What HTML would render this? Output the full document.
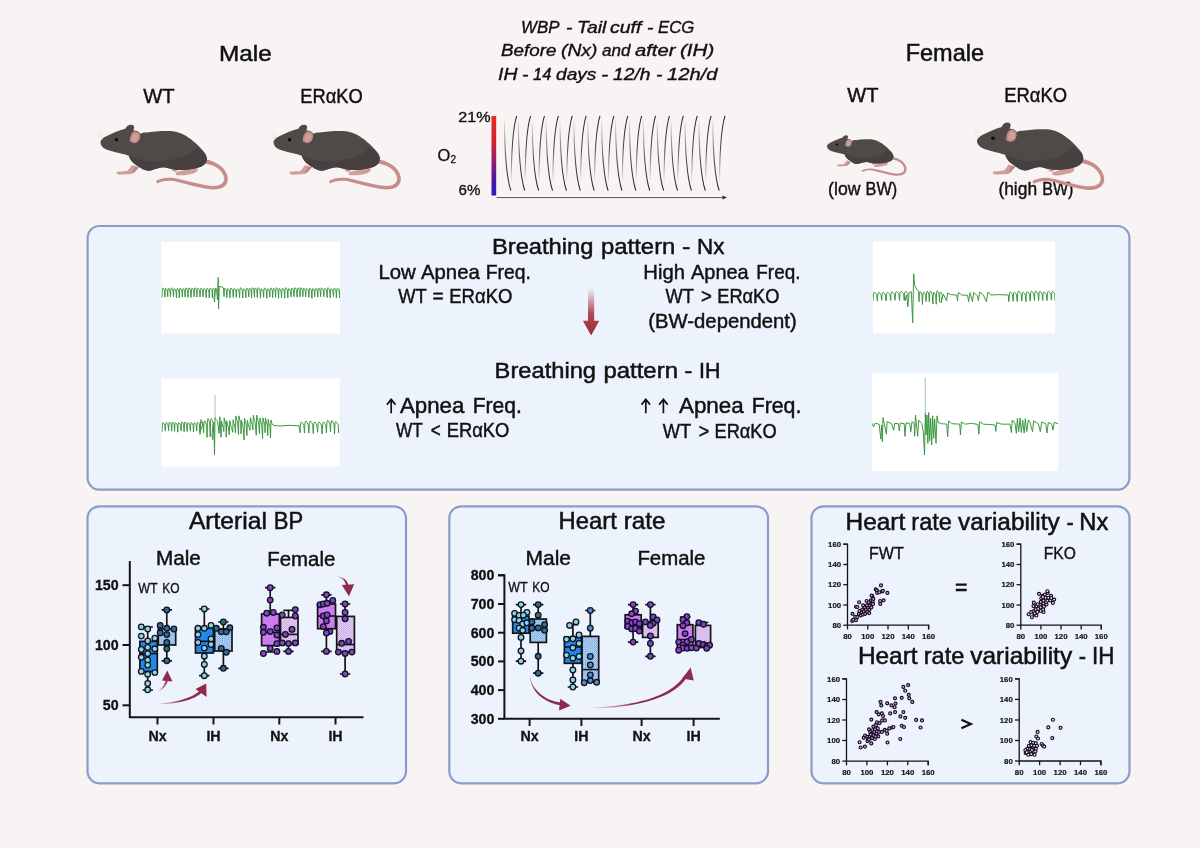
<!DOCTYPE html><html><head><meta charset="utf-8"><title>Graphical abstract</title>
<style>html,body{margin:0;padding:0;background:#f8f4f3;}svg{display:block;will-change:transform;font-family:"Liberation Sans",sans-serif;}</style></head><body>
<svg width="1200" height="848" viewBox="0 0 1200 848">
<defs>
<linearGradient id="o2bar" x1="0" y1="0" x2="0" y2="1"><stop offset="0" stop-color="#ea2a1c"/><stop offset="0.3" stop-color="#d4242e"/><stop offset="0.6" stop-color="#8c1c76"/><stop offset="0.82" stop-color="#4618aa"/><stop offset="1" stop-color="#2a18c4"/></linearGradient>
<linearGradient id="gdown" gradientUnits="userSpaceOnUse" x1="0" y1="118" x2="0" y2="191"><stop offset="0" stop-color="#333" stop-opacity="0"/><stop offset="0.55" stop-color="#333" stop-opacity="0.85"/><stop offset="1" stop-color="#222" stop-opacity="1"/></linearGradient>
<linearGradient id="gup" gradientUnits="userSpaceOnUse" x1="0" y1="183" x2="0" y2="115"><stop offset="0" stop-color="#333" stop-opacity="0"/><stop offset="0.5" stop-color="#333" stop-opacity="0.85"/><stop offset="1" stop-color="#222" stop-opacity="1"/></linearGradient>
<linearGradient id="garrow" x1="0" y1="0" x2="0" y2="1"><stop offset="0" stop-color="#a8323f" stop-opacity="0"/><stop offset="0.55" stop-color="#a8323f" stop-opacity="0.9"/><stop offset="1" stop-color="#9c2c3c" stop-opacity="1"/></linearGradient>
<pattern id="pblue" width="2.2" height="2.2" patternUnits="userSpaceOnUse"><rect width="2.2" height="2.2" fill="#d6e5f8"/><rect width="1" height="1" fill="#4a90e2"/><rect x="1.1" y="1.1" width="1" height="1" fill="#4a90e2"/></pattern>
<pattern id="ppurp" width="2.2" height="2.2" patternUnits="userSpaceOnUse"><rect width="2.2" height="2.2" fill="#f1e6fa"/><rect width="0.95" height="0.95" fill="#b07ae0"/><rect x="1.1" y="1.1" width="0.95" height="0.95" fill="#b07ae0"/></pattern>
<symbol id="mouse" viewBox="0 0 1200 720">
<path d="M925,396 C1010,408 1092,465 1102,540 C1110,617 1040,642 960,634 C850,620 760,588 680,570 C620,560 572,570 538,588 L527,568 C565,546 620,536 682,546 C762,560 852,592 960,606 C1030,612 1078,595 1073,540 C1062,482 1000,436 915,427 Z" fill="#c58e8a"/>
<path d="M335,440 C325,460 310,480 295,488 L218,493 C204,500 214,513 236,517 L335,512 C358,500 380,470 392,455 Z" fill="#cf9f9a"/>
<path d="M360,455 C352,470 345,485 335,497 L350,500 C365,488 380,470 392,455 Z" fill="#bf8582"/>
<path d="M690,500 C720,485 800,470 855,462 C872,475 862,495 832,505 C800,516 740,526 700,522 C684,518 682,508 690,500 Z" fill="#cf9f9a"/>
<path d="M650,480 C660,490 680,497 690,497 L700,480 Z" fill="#cf9f9a"/>
<path d="M85,265 C80,245 100,225 130,210 C180,185 240,160 283,150 C290,130 305,118 330,117 C350,118 358,130 351,150 L346,165 C370,163 392,172 402,190 C420,182 440,178 455,180 C500,172 600,165 665,170 C740,180 800,225 850,270 C900,320 935,350 935,390 C935,430 900,455 860,462 C820,475 750,482 700,480 C650,475 620,462 590,458 C560,458 530,470 500,480 C470,490 440,485 410,465 C370,440 330,420 310,365 C270,350 200,340 150,322 C110,310 90,290 85,265 Z" fill="#4f4948"/>
<path d="M310,365 C400,405 520,425 610,405 C700,385 790,380 850,300 C900,330 935,355 935,390 C935,430 900,455 860,462 C820,475 750,482 700,480 C650,475 620,462 590,458 C560,458 530,470 500,480 C470,490 440,485 410,465 C370,440 330,420 310,365 Z" fill="#464140"/>
<path d="M318,250 C318,210 330,180 352,172 C378,165 400,180 402,206 C402,236 385,260 360,265 C340,263 325,258 318,250 Z" fill="#bb8683"/>
<path d="M332,245 C332,215 342,192 358,186 C378,182 390,192 390,210 C390,234 376,252 358,254 C345,253 337,250 332,245 Z" fill="#d19d99"/>
<circle cx="212" cy="237" r="14" fill="#0c0a0a"/>
<path d="M100,228 L68,162 M106,222 L92,168 M100,240 L60,200" stroke="#d9d4d2" stroke-width="3" fill="none"/>
</symbol>
</defs>
<rect width="1200" height="848" fill="#f8f4f3"/>
<text x="219.0" y="61.3" font-size="22.7" font-weight="normal" font-style="normal" text-anchor="start" fill="#111" textLength="52.7" lengthAdjust="spacingAndGlyphs" stroke="#111" stroke-width="0.5">Male</text>
<text x="143.2" y="103.3" font-size="20.2" font-weight="normal" font-style="normal" text-anchor="start" fill="#111" textLength="31.4" lengthAdjust="spacingAndGlyphs" stroke="#111" stroke-width="0.44">WT</text>
<text x="300.3" y="103.3" font-size="20.2" font-weight="normal" font-style="normal" text-anchor="start" fill="#111" textLength="62.4" lengthAdjust="spacingAndGlyphs" stroke="#111" stroke-width="0.44">ERαKO</text>
<text x="905.7" y="61.4" font-size="23.4" font-weight="normal" font-style="normal" text-anchor="start" fill="#111" textLength="78.4" lengthAdjust="spacingAndGlyphs" stroke="#111" stroke-width="0.51">Female</text>
<text x="847.2" y="101.5" font-size="20.4" font-weight="normal" font-style="normal" text-anchor="start" fill="#111" textLength="31.2" lengthAdjust="spacingAndGlyphs" stroke="#111" stroke-width="0.45">WT</text>
<text x="1004.3" y="101.5" font-size="20.4" font-weight="normal" font-style="normal" text-anchor="start" fill="#111" textLength="62.7" lengthAdjust="spacingAndGlyphs" stroke="#111" stroke-width="0.45">ERαKO</text>
<text x="828.1" y="195.2" font-size="17.8" font-weight="normal" font-style="normal" text-anchor="start" fill="#111" textLength="32.4" lengthAdjust="spacingAndGlyphs" stroke="#111" stroke-width="0.39">(low</text>
<text x="865.6" y="195.2" font-size="17.8" font-weight="normal" font-style="normal" text-anchor="start" fill="#111" textLength="31.7" lengthAdjust="spacingAndGlyphs" stroke="#111" stroke-width="0.39">BW)</text>
<text x="998.4" y="195.2" font-size="17.8" font-weight="normal" font-style="normal" text-anchor="start" fill="#111" textLength="38.7" lengthAdjust="spacingAndGlyphs" stroke="#111" stroke-width="0.39">(high</text>
<text x="1042.2" y="195.2" font-size="17.8" font-weight="normal" font-style="normal" text-anchor="start" fill="#111" textLength="31.3" lengthAdjust="spacingAndGlyphs" stroke="#111" stroke-width="0.39">BW)</text>
<text x="521.0" y="33.0" font-size="17.4" font-weight="normal" font-style="italic" text-anchor="start" fill="#111" textLength="38.4" lengthAdjust="spacingAndGlyphs" stroke="#111" stroke-width="0.38">WBP</text>
<text x="566.0" y="33.0" font-size="17.4" font-weight="normal" font-style="italic" text-anchor="start" fill="#111" textLength="6.4" lengthAdjust="spacingAndGlyphs" stroke="#111" stroke-width="0.38">-</text>
<text x="577.0" y="33.0" font-size="17.4" font-weight="normal" font-style="italic" text-anchor="start" fill="#111" textLength="29.4" lengthAdjust="spacingAndGlyphs" stroke="#111" stroke-width="0.38">Tail</text>
<text x="610.0" y="33.0" font-size="17.4" font-weight="normal" font-style="italic" text-anchor="start" fill="#111" textLength="31.4" lengthAdjust="spacingAndGlyphs" stroke="#111" stroke-width="0.38">cuff</text>
<text x="647.0" y="33.0" font-size="17.4" font-weight="normal" font-style="italic" text-anchor="start" fill="#111" textLength="6.4" lengthAdjust="spacingAndGlyphs" stroke="#111" stroke-width="0.38">-</text>
<text x="658.0" y="33.0" font-size="17.4" font-weight="normal" font-style="italic" text-anchor="start" fill="#111" textLength="36.4" lengthAdjust="spacingAndGlyphs" stroke="#111" stroke-width="0.38">ECG</text>
<text x="501.0" y="56.4" font-size="17.4" font-weight="normal" font-style="italic" text-anchor="start" fill="#111" textLength="55.4" lengthAdjust="spacingAndGlyphs" stroke="#111" stroke-width="0.38">Before</text>
<text x="561.0" y="56.4" font-size="17.4" font-weight="normal" font-style="italic" text-anchor="start" fill="#111" textLength="36.4" lengthAdjust="spacingAndGlyphs" stroke="#111" stroke-width="0.38">(Nx)</text>
<text x="602.0" y="56.4" font-size="17.4" font-weight="normal" font-style="italic" text-anchor="start" fill="#111" textLength="28.4" lengthAdjust="spacingAndGlyphs" stroke="#111" stroke-width="0.38">and</text>
<text x="635.0" y="56.4" font-size="17.4" font-weight="normal" font-style="italic" text-anchor="start" fill="#111" textLength="40.4" lengthAdjust="spacingAndGlyphs" stroke="#111" stroke-width="0.38">after</text>
<text x="680.0" y="56.4" font-size="17.4" font-weight="normal" font-style="italic" text-anchor="start" fill="#111" textLength="34.4" lengthAdjust="spacingAndGlyphs" stroke="#111" stroke-width="0.38">(IH)</text>
<text x="498.0" y="79.6" font-size="17.4" font-weight="normal" font-style="italic" text-anchor="start" fill="#111" textLength="19.4" lengthAdjust="spacingAndGlyphs" stroke="#111" stroke-width="0.38">IH</text>
<text x="522.0" y="79.6" font-size="17.4" font-weight="normal" font-style="italic" text-anchor="start" fill="#111" textLength="6.4" lengthAdjust="spacingAndGlyphs" stroke="#111" stroke-width="0.38">-</text>
<text x="533.0" y="79.6" font-size="17.4" font-weight="normal" font-style="italic" text-anchor="start" fill="#111" textLength="18.4" lengthAdjust="spacingAndGlyphs" stroke="#111" stroke-width="0.38">14</text>
<text x="556.0" y="79.6" font-size="17.4" font-weight="normal" font-style="italic" text-anchor="start" fill="#111" textLength="40.4" lengthAdjust="spacingAndGlyphs" stroke="#111" stroke-width="0.38">days</text>
<text x="601.0" y="79.6" font-size="17.4" font-weight="normal" font-style="italic" text-anchor="start" fill="#111" textLength="7.4" lengthAdjust="spacingAndGlyphs" stroke="#111" stroke-width="0.38">-</text>
<text x="613.0" y="79.6" font-size="17.4" font-weight="normal" font-style="italic" text-anchor="start" fill="#111" textLength="37.4" lengthAdjust="spacingAndGlyphs" stroke="#111" stroke-width="0.38">12/h</text>
<text x="656.0" y="79.6" font-size="17.4" font-weight="normal" font-style="italic" text-anchor="start" fill="#111" textLength="6.4" lengthAdjust="spacingAndGlyphs" stroke="#111" stroke-width="0.38">-</text>
<text x="667.0" y="79.6" font-size="17.4" font-weight="normal" font-style="italic" text-anchor="start" fill="#111" textLength="50.4" lengthAdjust="spacingAndGlyphs" stroke="#111" stroke-width="0.38">12h/d</text>
<text x="458.3" y="121.5" font-size="15.1" font-weight="normal" font-style="normal" text-anchor="start" fill="#111" textLength="32.4" lengthAdjust="spacingAndGlyphs" stroke="#111" stroke-width="0.33">21%</text>
<text x="458.6" y="194.5" font-size="15.1" font-weight="normal" font-style="normal" text-anchor="start" fill="#111" textLength="21.9" lengthAdjust="spacingAndGlyphs" stroke="#111" stroke-width="0.33">6%</text>
<text x="437.6" y="160.5" font-size="16.5" fill="#111" stroke="#111" stroke-width="0.3">O<tspan font-size="10" dy="2.6">2</tspan></text>
<rect x="491.5" y="116" width="4.7" height="79.5" fill="url(#o2bar)"/>
<path d="M496.6,197.6 H724" stroke="#555" stroke-width="1" fill="none"/>
<path d="M722.5,195.6 L727,197.6 L722.5,199.6 Z" fill="#333"/>
<path d="M504.40,118.5 C504.60,150 506.00,176 510.90,190.7" stroke="url(#gdown)" stroke-width="1.05" fill="none"/>
<path d="M511.20,183 C511.40,150 512.80,128 516.70,115.8" stroke="url(#gup)" stroke-width="1.05" fill="none"/>
<path d="M518.29,118.5 C518.49,150 519.89,176 524.79,190.7" stroke="url(#gdown)" stroke-width="1.05" fill="none"/>
<path d="M525.09,183 C525.29,150 526.69,128 530.59,115.8" stroke="url(#gup)" stroke-width="1.05" fill="none"/>
<path d="M532.17,118.5 C532.37,150 533.77,176 538.67,190.7" stroke="url(#gdown)" stroke-width="1.05" fill="none"/>
<path d="M538.97,183 C539.17,150 540.57,128 544.47,115.8" stroke="url(#gup)" stroke-width="1.05" fill="none"/>
<path d="M546.06,118.5 C546.26,150 547.66,176 552.56,190.7" stroke="url(#gdown)" stroke-width="1.05" fill="none"/>
<path d="M552.86,183 C553.06,150 554.46,128 558.36,115.8" stroke="url(#gup)" stroke-width="1.05" fill="none"/>
<path d="M559.95,118.5 C560.15,150 561.55,176 566.45,190.7" stroke="url(#gdown)" stroke-width="1.05" fill="none"/>
<path d="M566.75,183 C566.95,150 568.35,128 572.25,115.8" stroke="url(#gup)" stroke-width="1.05" fill="none"/>
<path d="M573.84,118.5 C574.03,150 575.43,176 580.34,190.7" stroke="url(#gdown)" stroke-width="1.05" fill="none"/>
<path d="M580.63,183 C580.84,150 582.24,128 586.13,115.8" stroke="url(#gup)" stroke-width="1.05" fill="none"/>
<path d="M587.72,118.5 C587.92,150 589.32,176 594.22,190.7" stroke="url(#gdown)" stroke-width="1.05" fill="none"/>
<path d="M594.52,183 C594.72,150 596.12,128 600.02,115.8" stroke="url(#gup)" stroke-width="1.05" fill="none"/>
<path d="M601.61,118.5 C601.81,150 603.21,176 608.11,190.7" stroke="url(#gdown)" stroke-width="1.05" fill="none"/>
<path d="M608.41,183 C608.61,150 610.01,128 613.91,115.8" stroke="url(#gup)" stroke-width="1.05" fill="none"/>
<path d="M615.50,118.5 C615.70,150 617.10,176 622.00,190.7" stroke="url(#gdown)" stroke-width="1.05" fill="none"/>
<path d="M622.30,183 C622.50,150 623.90,128 627.80,115.8" stroke="url(#gup)" stroke-width="1.05" fill="none"/>
<path d="M629.38,118.5 C629.58,150 630.98,176 635.88,190.7" stroke="url(#gdown)" stroke-width="1.05" fill="none"/>
<path d="M636.18,183 C636.38,150 637.78,128 641.68,115.8" stroke="url(#gup)" stroke-width="1.05" fill="none"/>
<path d="M643.27,118.5 C643.47,150 644.87,176 649.77,190.7" stroke="url(#gdown)" stroke-width="1.05" fill="none"/>
<path d="M650.07,183 C650.27,150 651.67,128 655.57,115.8" stroke="url(#gup)" stroke-width="1.05" fill="none"/>
<path d="M657.16,118.5 C657.36,150 658.76,176 663.66,190.7" stroke="url(#gdown)" stroke-width="1.05" fill="none"/>
<path d="M663.96,183 C664.16,150 665.56,128 669.46,115.8" stroke="url(#gup)" stroke-width="1.05" fill="none"/>
<path d="M671.04,118.5 C671.24,150 672.64,176 677.54,190.7" stroke="url(#gdown)" stroke-width="1.05" fill="none"/>
<path d="M677.84,183 C678.04,150 679.44,128 683.34,115.8" stroke="url(#gup)" stroke-width="1.05" fill="none"/>
<path d="M684.93,118.5 C685.13,150 686.53,176 691.43,190.7" stroke="url(#gdown)" stroke-width="1.05" fill="none"/>
<path d="M691.73,183 C691.93,150 693.33,128 697.23,115.8" stroke="url(#gup)" stroke-width="1.05" fill="none"/>
<path d="M698.82,118.5 C699.02,150 700.42,176 705.32,190.7" stroke="url(#gdown)" stroke-width="1.05" fill="none"/>
<path d="M705.62,183 C705.82,150 707.22,128 711.12,115.8" stroke="url(#gup)" stroke-width="1.05" fill="none"/>
<path d="M712.71,118.5 C712.91,150 714.31,176 719.21,190.7" stroke="url(#gdown)" stroke-width="1.05" fill="none"/>
<path d="M719.51,183 C719.71,150 721.11,128 725.01,115.8" stroke="url(#gup)" stroke-width="1.05" fill="none"/>
<g transform="translate(90.00,110.00) scale(0.12500,0.12500)"><use href="#mouse" x="0" y="0" width="1200" height="720"/></g>
<g transform="translate(263.00,110.00) scale(0.12500,0.12500)"><use href="#mouse" x="0" y="0" width="1200" height="720"/></g>
<g transform="translate(820.40,126.10) scale(0.07812,0.07812)"><use href="#mouse" x="0" y="0" width="1200" height="720"/></g>
<g transform="translate(966.40,107.40) scale(0.12500,0.13000)"><use href="#mouse" x="0" y="0" width="1200" height="720"/></g>
<rect x="87.6" y="226" width="1041.8000000000002" height="263.7" rx="12" ry="12" fill="#edf3fc" stroke="#8a9dca" stroke-width="2.2"/>
<rect x="87.5" y="506.3" width="318.5" height="276.99999999999994" rx="12" ry="12" fill="#edf3fc" stroke="#8a9dca" stroke-width="2.2"/>
<rect x="449.3" y="506.3" width="318.7" height="276.99999999999994" rx="12" ry="12" fill="#edf3fc" stroke="#8a9dca" stroke-width="2.2"/>
<rect x="811.5" y="506.3" width="318.0" height="276.99999999999994" rx="12" ry="12" fill="#edf3fc" stroke="#8a9dca" stroke-width="2.2"/>
<text x="492.0" y="254.2" font-size="22.1" font-weight="normal" font-style="normal" text-anchor="start" fill="#111" textLength="101.4" lengthAdjust="spacingAndGlyphs" stroke="#111" stroke-width="0.49">Breathing</text>
<text x="601.0" y="254.2" font-size="22.1" font-weight="normal" font-style="normal" text-anchor="start" fill="#111" textLength="74.4" lengthAdjust="spacingAndGlyphs" stroke="#111" stroke-width="0.49">pattern</text>
<text x="682.0" y="254.2" font-size="22.1" font-weight="normal" font-style="normal" text-anchor="start" fill="#111" textLength="8.4" lengthAdjust="spacingAndGlyphs" stroke="#111" stroke-width="0.49">-</text>
<text x="697.0" y="254.2" font-size="22.1" font-weight="normal" font-style="normal" text-anchor="start" fill="#111" textLength="27.4" lengthAdjust="spacingAndGlyphs" stroke="#111" stroke-width="0.49">Nx</text>
<text x="494.6" y="377.9" font-size="22.1" font-weight="normal" font-style="normal" text-anchor="start" fill="#111" textLength="101.4" lengthAdjust="spacingAndGlyphs" stroke="#111" stroke-width="0.49">Breathing</text>
<text x="603.4" y="377.9" font-size="22.1" font-weight="normal" font-style="normal" text-anchor="start" fill="#111" textLength="74.6" lengthAdjust="spacingAndGlyphs" stroke="#111" stroke-width="0.49">pattern</text>
<text x="684.6" y="377.9" font-size="22.1" font-weight="normal" font-style="normal" text-anchor="start" fill="#111" textLength="7.8" lengthAdjust="spacingAndGlyphs" stroke="#111" stroke-width="0.49">-</text>
<text x="699.0" y="377.9" font-size="22.1" font-weight="normal" font-style="normal" text-anchor="start" fill="#111" textLength="21.4" lengthAdjust="spacingAndGlyphs" stroke="#111" stroke-width="0.49">IH</text>
<text x="378.4" y="279.0" font-size="19.8" font-weight="normal" font-style="normal" text-anchor="start" fill="#111" textLength="37.4" lengthAdjust="spacingAndGlyphs" stroke="#111" stroke-width="0.44">Low</text>
<text x="421.0" y="279.0" font-size="19.8" font-weight="normal" font-style="normal" text-anchor="start" fill="#111" textLength="58.8" lengthAdjust="spacingAndGlyphs" stroke="#111" stroke-width="0.44">Apnea</text>
<text x="485.7" y="279.0" font-size="19.8" font-weight="normal" font-style="normal" text-anchor="start" fill="#111" textLength="45.1" lengthAdjust="spacingAndGlyphs" stroke="#111" stroke-width="0.44">Freq.</text>
<text x="398.2" y="303.2" font-size="20.3" font-weight="normal" font-style="normal" text-anchor="start" fill="#111" textLength="28.5" lengthAdjust="spacingAndGlyphs" stroke="#111" stroke-width="0.45">WT</text>
<text x="432.5" y="303.2" font-size="20.3" font-weight="normal" font-style="normal" text-anchor="start" fill="#111" textLength="11.2" lengthAdjust="spacingAndGlyphs" stroke="#111" stroke-width="0.45">=</text>
<text x="449.2" y="303.2" font-size="20.3" font-weight="normal" font-style="normal" text-anchor="start" fill="#111" textLength="63.2" lengthAdjust="spacingAndGlyphs" stroke="#111" stroke-width="0.45">ERαKO</text>
<text x="643.3" y="278.8" font-size="19.8" font-weight="normal" font-style="normal" text-anchor="start" fill="#111" textLength="41.6" lengthAdjust="spacingAndGlyphs" stroke="#111" stroke-width="0.44">High</text>
<text x="691.0" y="278.8" font-size="19.8" font-weight="normal" font-style="normal" text-anchor="start" fill="#111" textLength="57.7" lengthAdjust="spacingAndGlyphs" stroke="#111" stroke-width="0.44">Apnea</text>
<text x="756.3" y="278.8" font-size="19.8" font-weight="normal" font-style="normal" text-anchor="start" fill="#111" textLength="44.1" lengthAdjust="spacingAndGlyphs" stroke="#111" stroke-width="0.44">Freq.</text>
<text x="665.5" y="302.9" font-size="20.3" font-weight="normal" font-style="normal" text-anchor="start" fill="#111" textLength="28.4" lengthAdjust="spacingAndGlyphs" stroke="#111" stroke-width="0.45">WT</text>
<text x="701.0" y="302.9" font-size="20.3" font-weight="normal" font-style="normal" text-anchor="start" fill="#111" textLength="10.9" lengthAdjust="spacingAndGlyphs" stroke="#111" stroke-width="0.45">&gt;</text>
<text x="717.3" y="302.9" font-size="20.3" font-weight="normal" font-style="normal" text-anchor="start" fill="#111" textLength="62.1" lengthAdjust="spacingAndGlyphs" stroke="#111" stroke-width="0.45">ERαKO</text>
<text x="648.3" y="327.6" font-size="19.8" font-weight="normal" font-style="normal" text-anchor="start" fill="#111" textLength="148.4" lengthAdjust="spacingAndGlyphs" stroke="#111" stroke-width="0.44">(BW-dependent)</text>
<text x="400.0" y="413.2" font-size="21.3" font-weight="normal" font-style="normal" text-anchor="start" fill="#111" textLength="64.4" lengthAdjust="spacingAndGlyphs" stroke="#111" stroke-width="0.47">Apnea</text>
<text x="472.7" y="413.2" font-size="21.3" font-weight="normal" font-style="normal" text-anchor="start" fill="#111" textLength="49.1" lengthAdjust="spacingAndGlyphs" stroke="#111" stroke-width="0.47">Freq.</text>
<path d="M391.2,413.2 V399.6 M386.9,404.6 L391.2,399.4 L395.5,404.6" stroke="#111" stroke-width="1.7" fill="none" stroke-linejoin="miter"/>
<text x="396.0" y="437.3" font-size="20.3" font-weight="normal" font-style="normal" text-anchor="start" fill="#111" textLength="26.7" lengthAdjust="spacingAndGlyphs" stroke="#111" stroke-width="0.45">WT</text>
<text x="430.7" y="437.3" font-size="20.3" font-weight="normal" font-style="normal" text-anchor="start" fill="#111" textLength="10.0" lengthAdjust="spacingAndGlyphs" stroke="#111" stroke-width="0.45">&lt;</text>
<text x="446.7" y="437.3" font-size="20.3" font-weight="normal" font-style="normal" text-anchor="start" fill="#111" textLength="62.7" lengthAdjust="spacingAndGlyphs" stroke="#111" stroke-width="0.45">ERαKO</text>
<text x="679.0" y="413.2" font-size="21.3" font-weight="normal" font-style="normal" text-anchor="start" fill="#111" textLength="64.6" lengthAdjust="spacingAndGlyphs" stroke="#111" stroke-width="0.47">Apnea</text>
<text x="751.7" y="413.2" font-size="21.3" font-weight="normal" font-style="normal" text-anchor="start" fill="#111" textLength="49.7" lengthAdjust="spacingAndGlyphs" stroke="#111" stroke-width="0.47">Freq.</text>
<path d="M645.8,413.2 V399.6 M641.5,404.6 L645.8,399.4 L650.1,404.6" stroke="#111" stroke-width="1.7" fill="none" stroke-linejoin="miter"/>
<path d="M663.4,413.2 V399.6 M659.1,404.6 L663.4,399.4 L667.7,404.6" stroke="#111" stroke-width="1.7" fill="none" stroke-linejoin="miter"/>
<text x="662.8" y="437.5" font-size="20.3" font-weight="normal" font-style="normal" text-anchor="start" fill="#111" textLength="28.4" lengthAdjust="spacingAndGlyphs" stroke="#111" stroke-width="0.45">WT</text>
<text x="698.8" y="437.5" font-size="20.3" font-weight="normal" font-style="normal" text-anchor="start" fill="#111" textLength="10.4" lengthAdjust="spacingAndGlyphs" stroke="#111" stroke-width="0.45">&gt;</text>
<text x="714.5" y="437.5" font-size="20.3" font-weight="normal" font-style="normal" text-anchor="start" fill="#111" textLength="62.2" lengthAdjust="spacingAndGlyphs" stroke="#111" stroke-width="0.45">ERαKO</text>
<path d="M588,288 H594.2 V320.8 H599.3 L591.1,335.6 L582.9,320.8 H588 Z" fill="url(#garrow)"/>
<rect x="161.5" y="242" width="178.5" height="91.5" fill="#fff"/>
<rect x="161.5" y="378.3" width="178.0" height="88.2" fill="#fff"/>
<rect x="873" y="241.5" width="182.0" height="91.8" fill="#fff"/>
<rect x="871.7" y="373.3" width="186.6" height="97.5" fill="#fff"/>
<clipPath id="tc1"><rect x="161.5" y="242" width="178.5" height="91.5"/></clipPath>
<path d="M162.00,297.53 L162.35,289.22 L162.87,287.85 L163.75,288.94 L164.48,290.58 L164.92,297.10 L165.25,289.60 L165.75,288.24 L166.59,289.33 L167.29,290.97 L167.71,296.61 L168.04,289.57 L168.55,288.21 L169.38,289.30 L170.08,290.94 L170.50,296.69 L170.85,289.13 L171.39,287.77 L172.28,288.86 L173.02,290.50 L173.47,296.74 L173.82,289.89 L174.36,288.53 L175.24,289.62 L175.99,291.26 L176.43,297.97 L176.77,289.69 L177.29,288.33 L178.15,289.42 L178.87,291.06 L179.30,298.01 L179.66,289.46 L180.21,288.10 L181.12,289.19 L181.88,290.83 L182.33,296.98 L182.67,289.92 L183.17,288.56 L184.00,289.65 L184.70,291.29 L185.12,297.01 L185.46,289.18 L185.97,287.82 L186.81,288.91 L187.52,290.55 L187.95,297.42 L188.32,289.25 L188.89,287.88 L189.84,288.97 L190.62,290.61 L191.10,297.37 L191.47,289.44 L192.02,288.07 L192.94,289.16 L193.70,290.80 L194.16,296.86 L194.50,289.12 L195.00,287.76 L195.84,288.85 L196.54,290.49 L196.95,297.02 L197.32,289.49 L197.88,288.13 L198.81,289.22 L199.58,290.86 L200.04,297.00 L200.41,289.52 L200.95,288.15 L201.87,289.25 L202.63,290.88 L203.08,296.92 L203.46,289.76 L204.02,288.40 L204.97,289.49 L205.75,291.13 L206.22,297.86 L206.59,289.59 L207.13,288.23 L208.04,289.32 L208.80,290.96 L209.26,298.02 L209.63,289.35 L210.19,287.99 L211.13,289.08 L211.90,290.72 L212.37,297.69 L212.71,289.48 L213.21,288.12 L214.06,289.21 L214.76,290.85 L214.00,297.30 L214.50,302.00 L215.50,288.00 L216.50,289.00 L217.50,300.00 L218.20,277.50 L218.60,308.80 L219.20,286.50 L222.00,287.00 L223.50,288.00 L224.00,296.67 L224.35,289.58 L224.86,288.19 L225.73,289.30 L226.45,290.98 L226.88,297.63 L227.26,289.91 L227.82,288.52 L228.76,289.63 L229.54,291.31 L230.01,297.85 L230.40,289.37 L230.98,287.98 L231.95,289.09 L232.76,290.77 L233.25,297.42 L233.62,289.69 L234.17,288.30 L235.10,289.41 L235.88,291.09 L236.34,297.45 L236.73,290.13 L237.31,288.73 L238.27,289.85 L239.08,291.52 L239.56,297.86 L239.93,289.07 L240.50,287.67 L241.44,288.79 L242.22,290.46 L242.69,298.08 L243.06,290.19 L243.62,288.79 L244.56,289.91 L245.34,291.58 L245.81,297.80 L246.16,289.46 L246.69,288.06 L247.58,289.18 L248.31,290.85 L248.75,296.90 L249.09,289.55 L249.60,288.15 L250.44,289.27 L251.15,290.94 L251.57,297.98 L251.91,289.07 L252.43,287.67 L253.29,288.79 L254.00,290.46 L254.43,297.30 L254.78,289.29 L255.30,287.90 L256.16,289.01 L256.87,290.69 L257.30,297.41 L257.69,289.09 L258.27,287.70 L259.24,288.81 L260.05,290.49 L260.53,298.07 L260.90,290.06 L261.46,288.66 L262.38,289.78 L263.15,291.45 L263.61,297.35 L264.00,289.33 L264.58,287.93 L265.55,289.05 L266.35,290.72 L266.84,298.32 L267.19,290.06 L267.73,288.66 L268.63,289.78 L269.37,291.45 L269.82,297.02 L270.16,289.21 L270.68,287.81 L271.55,288.93 L272.27,290.60 L272.70,297.66 L273.05,289.58 L273.57,288.18 L274.45,289.30 L275.18,290.97 L275.62,297.35 L275.97,289.00 L276.50,287.60 L277.38,288.72 L278.11,290.39 L278.55,298.32 L278.91,289.67 L279.45,288.28 L280.34,289.40 L281.09,291.07 L281.54,297.71 L281.91,289.61 L282.48,288.22 L283.42,289.33 L284.21,291.01 L284.68,298.22 L285.06,289.06 L285.62,287.66 L286.56,288.78 L287.35,290.45 L287.82,298.04 L288.20,290.04 L288.77,288.65 L289.73,289.77 L290.53,291.44 L291.00,296.79 L291.36,289.47 L291.90,288.08 L292.80,289.19 L293.55,290.87 L294.00,296.72 L294.37,289.07 L294.94,287.67 L295.87,288.79 L296.65,290.46 L297.12,297.21 L297.47,289.19 L297.99,287.79 L298.86,288.91 L299.59,290.58 L300.02,296.87 L300.36,289.00 L300.87,287.60 L301.72,288.72 L302.43,290.39 L302.86,296.65 L303.20,289.43 L303.71,288.04 L304.57,289.15 L305.28,290.83 L305.71,296.87 L306.10,289.73 L306.68,288.34 L307.65,289.45 L308.46,291.13 L308.94,297.26 L309.30,289.41 L309.82,288.02 L310.70,289.13 L311.43,290.81 L311.87,298.39 L312.22,290.01 L312.73,288.62 L313.59,289.73 L314.31,291.41 L314.74,296.75 L315.10,289.58 L315.65,288.18 L316.56,289.30 L317.32,290.97 L317.77,297.08 L318.11,289.41 L318.63,288.01 L319.49,289.13 L320.20,290.80 L320.63,296.64 L321.01,289.19 L321.59,287.79 L322.55,288.91 L323.36,290.58 L323.84,296.86 L324.23,289.63 L324.82,288.23 L325.80,289.35 L326.62,291.02 L327.11,297.55 L327.48,289.03 L328.03,287.63 L328.95,288.75 L329.72,290.42 L330.18,297.85 L330.57,290.03 L331.16,288.64 L332.15,289.75 L332.97,291.43 L333.46,296.90 L333.82,289.44 L334.34,288.04 L335.22,289.16 L335.96,290.83 L336.40,298.00 L336.78,289.63 L337.35,288.24 L338.31,289.36 L339.10,291.03 L339.58,298.06 L339.94,289.26 L340.47,287.87 L341.36,288.98 L342.10,290.66 L340.00,297.50" stroke="#35923a" stroke-width="0.95" fill="none" stroke-linejoin="round" clip-path="url(#tc1)"/>
<clipPath id="tc2"><rect x="161.5" y="378.3" width="178.0" height="88.2"/></clipPath>
<path d="M162.00,431.96 L162.40,423.95 L163.00,422.55 L164.00,423.67 L164.84,425.34 L165.34,431.09 L165.73,423.83 L166.32,422.44 L167.30,423.56 L168.11,425.23 L168.60,430.79 L168.97,423.45 L169.53,422.06 L170.46,423.17 L171.24,424.85 L171.71,431.14 L172.05,423.37 L172.57,421.98 L173.43,423.10 L174.14,424.77 L174.57,431.42 L174.96,424.05 L175.53,422.66 L176.49,423.77 L177.29,425.45 L177.77,432.18 L178.17,424.08 L178.76,422.69 L179.76,423.80 L180.59,425.48 L181.09,431.09 L181.45,423.32 L182.00,421.92 L182.90,423.04 L183.66,424.71 L184.12,431.69 L184.47,423.30 L185.00,421.90 L185.89,423.02 L186.63,424.69 L187.07,431.47 L187.46,423.94 L188.06,422.54 L189.05,423.66 L189.87,425.33 L190.37,430.88 L190.75,423.89 L191.32,422.50 L192.27,423.62 L193.07,425.29 L193.54,431.92 L193.92,424.00 L194.50,422.61 L195.45,423.73 L196.24,425.40 L196.72,431.02 L197.11,423.57 L197.69,422.18 L198.66,423.29 L199.46,424.97 L199.95,431.95 L200.34,423.43 L200.92,422.03 L201.89,423.15 L202.70,424.82 L200.00,431.50 L200.00,434.41 L200.43,421.83 L201.06,419.58 L202.13,421.38 L203.02,424.08 L203.55,433.02 L203.97,423.15 L204.61,420.90 L205.67,422.70 L206.55,425.40 L207.08,437.43 L207.46,420.85 L208.02,418.60 L208.95,420.40 L209.72,423.10 L210.19,436.96 L210.60,420.83 L211.23,418.58 L212.27,420.38 L213.13,423.08 L212.00,435.00 L212.79,439.66 L213.90,422.25 L214.53,454.71 L215.01,417.50 L215.64,419.08 L217.54,420.98 L219.12,433.33 L219.91,416.71 L221.00,437.23 L221.40,420.86 L222.30,424.86 L223.20,427.86 L223.82,431.44 L224.22,417.84 L225.12,421.84 L226.02,424.84 L226.24,437.15 L226.64,420.80 L227.54,424.80 L228.44,427.80 L229.27,434.77 L229.67,420.54 L230.57,424.54 L231.47,427.54 L232.72,432.32 L233.12,419.78 L234.02,423.78 L234.92,426.78 L235.42,432.65 L235.82,416.05 L236.72,420.05 L237.62,423.05 L238.52,434.61 L238.92,415.82 L239.82,419.82 L240.72,422.82 L241.08,433.89 L241.48,420.37 L242.38,424.37 L243.28,427.37 L244.03,439.95 L244.43,418.08 L245.33,422.08 L246.23,425.08 L246.93,435.52 L247.33,420.42 L248.23,424.42 L249.13,427.42 L249.97,430.21 L250.37,417.66 L251.27,421.66 L252.17,424.66 L252.90,430.04 L253.30,415.28 L254.20,419.28 L255.10,422.28 L256.26,435.21 L256.66,415.21 L257.56,419.21 L258.46,422.21 L259.53,433.59 L259.93,417.90 L260.83,421.90 L261.73,424.90 L262.55,438.63 L262.95,417.89 L263.85,421.89 L264.75,424.89 L265.08,432.73 L265.48,417.92 L266.38,421.92 L267.28,424.92 L267.81,435.58 L268.21,419.41 L269.11,423.41 L270.01,426.41 L270.50,438.00 L271.00,420.00 L272.00,424.00 L274.00,425.50 L280.00,426.00 L290.00,425.30 L299.00,425.80 L300.00,432.83 L300.54,423.62 L301.34,421.82 L302.69,423.26 L303.81,425.42 L304.48,433.04 L305.00,422.81 L305.79,421.01 L307.11,422.45 L308.20,424.61 L308.86,433.10 L309.39,422.70 L310.19,420.90 L311.52,422.34 L312.62,424.50 L313.29,433.60 L313.80,423.68 L314.57,421.88 L315.86,423.32 L316.93,425.48 L317.57,432.28 L318.12,423.68 L318.94,421.88 L320.31,423.32 L321.45,425.48 L322.13,434.02 L322.65,423.69 L323.44,421.89 L324.74,423.33 L325.82,425.49 L326.47,432.83 L326.96,422.04 L327.69,420.24 L328.90,421.68 L329.92,423.84 L330.52,431.72 L331.00,422.28 L331.73,420.48 L332.93,421.92 L333.93,424.08 L334.53,434.19 L335.06,423.37 L335.86,421.57 L337.18,423.01 L338.28,425.17 L338.50,433.00" stroke="#35923a" stroke-width="0.95" fill="none" stroke-linejoin="round" clip-path="url(#tc2)"/>
<clipPath id="tc3"><rect x="873" y="241.5" width="182.0" height="91.8"/></clipPath>
<path d="M873.00,300.74 L873.52,293.32 L874.30,292.02 L875.61,293.06 L876.69,294.63 L877.35,301.20 L877.87,293.49 L878.65,292.18 L879.95,293.23 L881.03,294.79 L881.68,300.35 L882.21,293.56 L883.00,292.25 L884.32,293.30 L885.42,294.86 L886.08,301.00 L886.63,293.59 L887.45,292.29 L888.83,293.33 L889.98,294.90 L890.67,300.52 L891.19,293.04 L891.97,291.73 L893.28,292.78 L894.37,294.34 L895.02,300.23 L895.56,292.80 L896.36,291.50 L897.71,292.54 L898.83,294.11 L899.50,300.58 L900.07,292.62 L900.93,291.32 L902.36,292.36 L903.55,293.93 L904.26,300.25 L904.81,292.62 L905.63,291.32 L907.00,292.36 L908.14,293.93 L905.00,300.50 L906.67,295.00 L907.83,306.67 L909.17,292.50 L911.33,291.67 L912.67,323.00 L913.67,273.67 L914.50,285.00 L916.67,289.17 L918.67,291.67 L919.00,301.69 L919.42,293.25 L920.04,291.52 L921.08,292.90 L921.95,294.97 L922.47,304.42 L922.91,293.80 L923.57,292.08 L924.67,293.46 L925.58,295.53 L926.13,301.62 L926.51,292.76 L927.09,291.03 L928.04,292.41 L928.84,294.48 L929.32,301.89 L929.74,292.77 L930.38,291.04 L931.45,292.42 L932.34,294.49 L932.87,303.96 L933.27,294.05 L933.88,292.32 L934.88,293.70 L935.72,295.77 L936.23,304.26 L936.62,292.52 L937.21,290.80 L938.19,292.18 L939.00,294.25 L939.49,301.77 L939.91,293.63 L940.53,291.90 L941.56,293.28 L942.42,295.35 L941.00,303.00 L943.33,294.17 L946.67,300.83 L947.50,293.00 L950.83,294.67 L956.67,295.00 L957.50,300.83 L958.33,292.50 L961.67,295.00 L967.50,295.33 L968.67,301.67 L970.00,292.50 L972.50,301.67 L973.67,292.50 L977.50,295.83 L978.33,300.83 L979.67,292.00 L983.33,295.00 L986.33,301.67 L988.00,292.00 L990.83,295.00 L998.33,294.67 L1008.33,295.00 L1008.67,301.67 L1009.00,300.87 L1009.49,293.15 L1010.23,291.73 L1011.45,292.87 L1012.48,294.58 L1013.09,301.24 L1013.58,293.45 L1014.32,292.03 L1015.55,293.17 L1016.57,294.88 L1017.19,301.64 L1017.74,292.43 L1018.57,291.00 L1019.95,292.14 L1021.11,293.85 L1021.80,300.92 L1022.29,293.36 L1023.03,291.94 L1024.26,293.08 L1025.28,294.79 L1025.89,301.77 L1026.41,292.99 L1027.18,291.56 L1028.47,292.70 L1029.54,294.41 L1030.18,301.05 L1030.69,292.48 L1031.45,291.06 L1032.72,292.20 L1033.78,293.91 L1034.42,300.39 L1034.92,292.46 L1035.68,291.03 L1036.95,292.17 L1038.00,293.88 L1038.63,300.66 L1039.12,292.57 L1039.86,291.14 L1041.08,292.28 L1042.10,293.99 L1042.72,300.62 L1043.23,293.24 L1044.00,291.81 L1045.28,292.95 L1046.34,294.66 L1046.98,300.72 L1047.51,292.54 L1048.30,291.11 L1049.62,292.25 L1050.72,293.96 L1051.38,300.13 L1051.87,292.63 L1052.60,291.20 L1053.82,292.34 L1054.83,294.05 L1055.00,301.00" stroke="#35923a" stroke-width="0.95" fill="none" stroke-linejoin="round" clip-path="url(#tc3)"/>
<clipPath id="tc4"><rect x="871.7" y="373.3" width="186.6" height="97.5"/></clipPath>
<path d="M871.67,423.00 L873.67,427.00 L875.00,423.33 L879.17,424.17 L880.83,439.17 L881.67,425.00 L882.33,441.67 L883.00,417.50 L884.17,423.33 L886.33,434.17 L887.17,421.67 L891.67,423.67 L893.67,430.33 L894.67,423.33 L898.33,423.67 L899.33,430.83 L900.33,423.00 L904.17,423.67 L905.00,436.33 L906.00,423.00 L909.67,423.33 L910.83,431.67 L912.00,421.67 L914.17,423.33 L914.67,436.33 L915.50,415.00 L916.33,423.33 L917.67,436.33 L918.67,420.00 L921.67,423.33 L923.33,431.67 L924.50,455.00 L925.33,413.33 L926.00,435.00 L927.00,415.00 L927.83,443.33 L928.67,412.50 L929.67,440.83 L930.67,418.33 L931.67,445.00 L932.67,415.83 L933.67,438.33 L934.67,419.17 L936.00,443.33 L937.00,415.83 L938.00,422.50 L941.67,423.67 L946.67,424.17 L947.67,436.67 L948.67,420.83 L951.67,423.67 L959.67,424.17 L960.50,435.00 L961.33,422.00 L965.00,424.17 L971.67,423.33 L978.00,424.50 L978.83,434.17 L979.67,421.67 L983.33,424.17 L990.00,424.50 L995.00,425.00 L995.83,431.33 L996.67,422.50 L1001.67,424.17 L1010.00,424.17 L1011.33,432.50 L1012.33,420.00 L1015.00,423.33 L1016.33,433.33 L1017.33,418.33 L1018.67,431.67 L1020.00,418.00 L1021.33,432.50 L1022.67,420.00 L1024.17,433.00 L1025.33,418.67 L1026.67,431.67 L1028.33,420.00 L1030.00,422.50 L1032.50,431.67 L1033.67,420.83 L1038.33,423.67 L1040.33,431.67 L1041.67,422.00 L1045.83,423.67 L1047.00,433.00 L1048.33,422.50 L1051.67,424.17 L1053.00,430.00 L1054.17,422.50 L1058.00,423.67" stroke="#35923a" stroke-width="0.95" fill="none" stroke-linejoin="round" clip-path="url(#tc4)"/>
<path d="M215.0,417.5 V395" stroke="#7db87d" stroke-width="0.7"/>
<path d="M925.3,413.5 V378" stroke="#8aa88a" stroke-width="0.7"/>
<path d="M129.8,561 V717.2 H363.5" stroke="#141414" stroke-width="2" fill="none"/>
<path d="M122.5,585.2 H129.8" stroke="#141414" stroke-width="2"/>
<text x="118.6" y="590.1" font-size="14.2" font-weight="bold" font-style="normal" text-anchor="end" fill="#111" stroke="#111" stroke-width="0.31">150</text>
<path d="M122.5,645 H129.8" stroke="#141414" stroke-width="2"/>
<text x="118.6" y="649.9" font-size="14.2" font-weight="bold" font-style="normal" text-anchor="end" fill="#111" stroke="#111" stroke-width="0.31">100</text>
<path d="M122.5,705.3 H129.8" stroke="#141414" stroke-width="2"/>
<text x="118.6" y="710.2" font-size="14.2" font-weight="bold" font-style="normal" text-anchor="end" fill="#111" stroke="#111" stroke-width="0.31">50</text>
<path d="M157.5,717.2 V724.5" stroke="#141414" stroke-width="2"/>
<text x="157.5" y="741.4" font-size="14.2" font-weight="bold" font-style="normal" text-anchor="middle" fill="#111" stroke="#111" stroke-width="0.31">Nx</text>
<path d="M213.5,717.2 V724.5" stroke="#141414" stroke-width="2"/>
<text x="213.5" y="741.4" font-size="14.2" font-weight="bold" font-style="normal" text-anchor="middle" fill="#111" stroke="#111" stroke-width="0.31">IH</text>
<path d="M279.3,717.2 V724.5" stroke="#141414" stroke-width="2"/>
<text x="279.3" y="741.4" font-size="14.2" font-weight="bold" font-style="normal" text-anchor="middle" fill="#111" stroke="#111" stroke-width="0.31">Nx</text>
<path d="M335.5,717.2 V724.5" stroke="#141414" stroke-width="2"/>
<text x="335.5" y="741.4" font-size="14.2" font-weight="bold" font-style="normal" text-anchor="middle" fill="#111" stroke="#111" stroke-width="0.31">IH</text>
<text x="179.0" y="529.2" font-size="1" font-weight="normal" font-style="normal" text-anchor="start" fill="#111" stroke="#111" stroke-width="0.02"></text>
<text x="188.9" y="529.2" font-size="23.2" font-weight="normal" font-style="normal" text-anchor="start" fill="#111" textLength="78.0" lengthAdjust="spacingAndGlyphs" stroke="#111" stroke-width="0.51">Arterial</text>
<text x="273.8" y="529.2" font-size="23.2" font-weight="normal" font-style="normal" text-anchor="start" fill="#111" textLength="29.4" lengthAdjust="spacingAndGlyphs" stroke="#111" stroke-width="0.51">BP</text>
<text x="155.9" y="565.1" font-size="19.5" font-weight="normal" font-style="normal" text-anchor="start" fill="#111" textLength="45.0" lengthAdjust="spacingAndGlyphs" stroke="#111" stroke-width="0.43">Male</text>
<text x="267.3" y="566.4" font-size="19.5" font-weight="normal" font-style="normal" text-anchor="start" fill="#111" textLength="68.0" lengthAdjust="spacingAndGlyphs" stroke="#111" stroke-width="0.43">Female</text>
<text x="138.2" y="593.4" font-size="13.8" font-weight="normal" font-style="normal" text-anchor="start" fill="#111" textLength="19.4" lengthAdjust="spacingAndGlyphs" stroke="#111" stroke-width="0.3">WT</text>
<text x="162.3" y="593.4" font-size="13.8" font-weight="normal" font-style="normal" text-anchor="start" fill="#111" textLength="17.3" lengthAdjust="spacingAndGlyphs" stroke="#111" stroke-width="0.3">KO</text>
<path d="M147.7,627.0 V641.3 M147.7,671.5 V690.0 M142.5,627.0 H152.9 M142.5,690.0 H152.9" stroke="#141414" stroke-width="1.7" fill="none"/>
<rect x="139.9" y="641.3" width="17.4" height="30.2" fill="#2289ea" stroke="#141414" stroke-width="1.7"/>
<path d="M139.9,653.6 H157.3" stroke="#141414" stroke-width="1.6"/>
<circle cx="141.3" cy="626.9" r="2.8" fill="#8fd3ea" stroke="#10131c" stroke-width="1.3"/>
<circle cx="147.7" cy="629.0" r="2.8" fill="#8fd3ea" stroke="#10131c" stroke-width="1.3"/>
<circle cx="141.3" cy="636.1" r="2.8" fill="#8fd3ea" stroke="#10131c" stroke-width="1.3"/>
<circle cx="154.8" cy="638.2" r="2.8" fill="#8fd3ea" stroke="#10131c" stroke-width="1.3"/>
<circle cx="147.7" cy="641.0" r="2.8" fill="#8fd3ea" stroke="#10131c" stroke-width="1.3"/>
<circle cx="141.3" cy="649.5" r="2.8" fill="#8fd3ea" stroke="#10131c" stroke-width="1.3"/>
<circle cx="147.7" cy="647.4" r="2.8" fill="#8fd3ea" stroke="#10131c" stroke-width="1.3"/>
<circle cx="154.8" cy="648.8" r="2.8" fill="#8fd3ea" stroke="#10131c" stroke-width="1.3"/>
<circle cx="147.7" cy="653.7" r="2.8" fill="#8fd3ea" stroke="#10131c" stroke-width="1.3"/>
<circle cx="141.3" cy="657.3" r="2.8" fill="#8fd3ea" stroke="#10131c" stroke-width="1.3"/>
<circle cx="147.7" cy="660.1" r="2.8" fill="#8fd3ea" stroke="#10131c" stroke-width="1.3"/>
<circle cx="147.7" cy="665.1" r="2.8" fill="#8fd3ea" stroke="#10131c" stroke-width="1.3"/>
<circle cx="141.3" cy="671.4" r="2.8" fill="#8fd3ea" stroke="#10131c" stroke-width="1.3"/>
<circle cx="154.8" cy="672.6" r="2.8" fill="#8fd3ea" stroke="#10131c" stroke-width="1.3"/>
<circle cx="147.7" cy="674.3" r="2.8" fill="#8fd3ea" stroke="#10131c" stroke-width="1.3"/>
<circle cx="147.7" cy="683.5" r="2.8" fill="#8fd3ea" stroke="#10131c" stroke-width="1.3"/>
<circle cx="147.7" cy="689.8" r="2.8" fill="#8fd3ea" stroke="#10131c" stroke-width="1.3"/>
<path d="M166.8,609.9 V629.0 M166.8,645.0 V660.8 M161.6,609.9 H172.0 M161.6,660.8 H172.0" stroke="#141414" stroke-width="1.7" fill="none"/>
<rect x="158.3" y="629.0" width="17.4" height="16.0" fill="url(#pblue)" stroke="#141414" stroke-width="1.7"/>
<circle cx="166.8" cy="609.9" r="2.8" fill="#2d6f9a" stroke="#10131c" stroke-width="1.3"/>
<circle cx="160.2" cy="625.4" r="2.8" fill="#2d6f9a" stroke="#10131c" stroke-width="1.3"/>
<circle cx="166.8" cy="628.3" r="2.8" fill="#2d6f9a" stroke="#10131c" stroke-width="1.3"/>
<circle cx="173.9" cy="629.0" r="2.8" fill="#2d6f9a" stroke="#10131c" stroke-width="1.3"/>
<circle cx="160.2" cy="632.9" r="2.8" fill="#2d6f9a" stroke="#10131c" stroke-width="1.3"/>
<circle cx="166.8" cy="634.6" r="2.8" fill="#2d6f9a" stroke="#10131c" stroke-width="1.3"/>
<circle cx="166.8" cy="642.4" r="2.8" fill="#2d6f9a" stroke="#10131c" stroke-width="1.3"/>
<circle cx="166.8" cy="648.8" r="2.8" fill="#2d6f9a" stroke="#10131c" stroke-width="1.3"/>
<circle cx="166.8" cy="660.8" r="2.8" fill="#2d6f9a" stroke="#10131c" stroke-width="1.3"/>
<path d="M204.3,609.0 V628.3 M204.3,653.0 V675.7 M199.1,609.0 H209.5 M199.1,675.7 H209.5" stroke="#141414" stroke-width="1.7" fill="none"/>
<rect x="195.5" y="628.3" width="17.9" height="24.7" fill="#2289ea" stroke="#141414" stroke-width="1.7"/>
<path d="M195.5,641.3 H213.4" stroke="#141414" stroke-width="1.6"/>
<circle cx="204.3" cy="608.9" r="2.8" fill="#8fd3ea" stroke="#10131c" stroke-width="1.3"/>
<circle cx="198.0" cy="628.3" r="2.8" fill="#8fd3ea" stroke="#10131c" stroke-width="1.3"/>
<circle cx="204.3" cy="628.3" r="2.8" fill="#8fd3ea" stroke="#10131c" stroke-width="1.3"/>
<circle cx="211.0" cy="625.4" r="2.8" fill="#8fd3ea" stroke="#10131c" stroke-width="1.3"/>
<circle cx="198.0" cy="634.6" r="2.8" fill="#8fd3ea" stroke="#10131c" stroke-width="1.3"/>
<circle cx="211.0" cy="638.9" r="2.8" fill="#8fd3ea" stroke="#10131c" stroke-width="1.3"/>
<circle cx="198.0" cy="642.4" r="2.8" fill="#8fd3ea" stroke="#10131c" stroke-width="1.3"/>
<circle cx="211.0" cy="644.5" r="2.8" fill="#8fd3ea" stroke="#10131c" stroke-width="1.3"/>
<circle cx="204.3" cy="648.1" r="2.8" fill="#8fd3ea" stroke="#10131c" stroke-width="1.3"/>
<circle cx="204.3" cy="656.2" r="2.8" fill="#8fd3ea" stroke="#10131c" stroke-width="1.3"/>
<circle cx="204.3" cy="664.4" r="2.8" fill="#8fd3ea" stroke="#10131c" stroke-width="1.3"/>
<circle cx="204.3" cy="675.7" r="2.8" fill="#8fd3ea" stroke="#10131c" stroke-width="1.3"/>
<path d="M223.4,622.0 V629.0 M223.4,651.0 V668.3 M218.2,622.0 H228.6 M218.2,668.3 H228.6" stroke="#141414" stroke-width="1.7" fill="none"/>
<rect x="214.7" y="629.0" width="17.3" height="22.0" fill="url(#pblue)" stroke="#141414" stroke-width="1.7"/>
<circle cx="223.4" cy="621.9" r="2.8" fill="#2d6f9a" stroke="#10131c" stroke-width="1.3"/>
<circle cx="216.4" cy="628.3" r="2.8" fill="#2d6f9a" stroke="#10131c" stroke-width="1.3"/>
<circle cx="229.8" cy="627.8" r="2.8" fill="#2d6f9a" stroke="#10131c" stroke-width="1.3"/>
<circle cx="221.3" cy="631.8" r="2.8" fill="#2d6f9a" stroke="#10131c" stroke-width="1.3"/>
<circle cx="226.3" cy="631.8" r="2.8" fill="#2d6f9a" stroke="#10131c" stroke-width="1.3"/>
<circle cx="221.3" cy="648.5" r="2.8" fill="#2d6f9a" stroke="#10131c" stroke-width="1.3"/>
<circle cx="226.3" cy="652.3" r="2.8" fill="#2d6f9a" stroke="#10131c" stroke-width="1.3"/>
<circle cx="223.4" cy="668.3" r="2.8" fill="#2d6f9a" stroke="#10131c" stroke-width="1.3"/>
<path d="M270.2,587.7 V614.0 M270.2,645.6 V652.0 M265.0,587.7 H275.4 M265.0,652.0 H275.4" stroke="#141414" stroke-width="1.7" fill="none"/>
<rect x="261.6" y="614.0" width="17.7" height="31.6" fill="#cb7cf3" stroke="#141414" stroke-width="1.7"/>
<path d="M261.6,632.3 H279.3" stroke="#141414" stroke-width="1.6"/>
<circle cx="270.2" cy="587.7" r="2.8" fill="#8b3fd6" stroke="#10131c" stroke-width="1.3"/>
<circle cx="270.2" cy="600.1" r="2.8" fill="#8b3fd6" stroke="#10131c" stroke-width="1.3"/>
<circle cx="266.7" cy="613.2" r="2.8" fill="#8b3fd6" stroke="#10131c" stroke-width="1.3"/>
<circle cx="273.3" cy="612.5" r="2.8" fill="#8b3fd6" stroke="#10131c" stroke-width="1.3"/>
<circle cx="263.4" cy="627.3" r="2.8" fill="#8b3fd6" stroke="#10131c" stroke-width="1.3"/>
<circle cx="276.9" cy="628.0" r="2.8" fill="#8b3fd6" stroke="#10131c" stroke-width="1.3"/>
<circle cx="263.4" cy="632.3" r="2.8" fill="#8b3fd6" stroke="#10131c" stroke-width="1.3"/>
<circle cx="270.2" cy="631.6" r="2.8" fill="#8b3fd6" stroke="#10131c" stroke-width="1.3"/>
<circle cx="276.9" cy="635.1" r="2.8" fill="#8b3fd6" stroke="#10131c" stroke-width="1.3"/>
<circle cx="276.9" cy="643.6" r="2.8" fill="#8b3fd6" stroke="#10131c" stroke-width="1.3"/>
<circle cx="270.2" cy="648.5" r="2.8" fill="#8b3fd6" stroke="#10131c" stroke-width="1.3"/>
<circle cx="276.9" cy="651.4" r="2.8" fill="#8b3fd6" stroke="#10131c" stroke-width="1.3"/>
<circle cx="263.4" cy="653.5" r="2.8" fill="#8b3fd6" stroke="#10131c" stroke-width="1.3"/>
<path d="M288.5,610.3 V617.4 M288.5,644.3 V651.4 M283.3,610.3 H293.7 M283.3,651.4 H293.7" stroke="#141414" stroke-width="1.7" fill="none"/>
<rect x="280.5" y="617.4" width="17.5" height="26.9" fill="url(#ppurp)" stroke="#141414" stroke-width="1.7"/>
<path d="M280.5,634.4 H298.0" stroke="#141414" stroke-width="1.6"/>
<circle cx="295.3" cy="609.6" r="2.8" fill="#7d45c4" stroke="#10131c" stroke-width="1.3"/>
<circle cx="282.3" cy="615.0" r="2.8" fill="#7d45c4" stroke="#10131c" stroke-width="1.3"/>
<circle cx="295.3" cy="616.0" r="2.8" fill="#7d45c4" stroke="#10131c" stroke-width="1.3"/>
<circle cx="292.0" cy="629.4" r="2.8" fill="#7d45c4" stroke="#10131c" stroke-width="1.3"/>
<circle cx="285.4" cy="634.4" r="2.8" fill="#7d45c4" stroke="#10131c" stroke-width="1.3"/>
<circle cx="282.3" cy="642.9" r="2.8" fill="#7d45c4" stroke="#10131c" stroke-width="1.3"/>
<circle cx="288.5" cy="643.6" r="2.8" fill="#7d45c4" stroke="#10131c" stroke-width="1.3"/>
<circle cx="295.3" cy="642.9" r="2.8" fill="#7d45c4" stroke="#10131c" stroke-width="1.3"/>
<circle cx="288.5" cy="651.4" r="2.8" fill="#7d45c4" stroke="#10131c" stroke-width="1.3"/>
<path d="M326.4,594.8 V604.0 M326.4,628.7 V651.4 M321.2,594.8 H331.6 M321.2,651.4 H331.6" stroke="#141414" stroke-width="1.7" fill="none"/>
<rect x="317.6" y="604.0" width="17.9" height="24.7" fill="#cb7cf3" stroke="#141414" stroke-width="1.7"/>
<path d="M317.6,616.0 H335.5" stroke="#141414" stroke-width="1.6"/>
<circle cx="326.4" cy="594.8" r="2.8" fill="#8b3fd6" stroke="#10131c" stroke-width="1.3"/>
<circle cx="332.8" cy="600.4" r="2.8" fill="#8b3fd6" stroke="#10131c" stroke-width="1.3"/>
<circle cx="320.0" cy="604.7" r="2.8" fill="#8b3fd6" stroke="#10131c" stroke-width="1.3"/>
<circle cx="323.3" cy="604.0" r="2.8" fill="#8b3fd6" stroke="#10131c" stroke-width="1.3"/>
<circle cx="327.1" cy="603.3" r="2.8" fill="#8b3fd6" stroke="#10131c" stroke-width="1.3"/>
<circle cx="323.3" cy="616.0" r="2.8" fill="#8b3fd6" stroke="#10131c" stroke-width="1.3"/>
<circle cx="327.1" cy="615.0" r="2.8" fill="#8b3fd6" stroke="#10131c" stroke-width="1.3"/>
<circle cx="326.4" cy="620.9" r="2.8" fill="#8b3fd6" stroke="#10131c" stroke-width="1.3"/>
<circle cx="323.3" cy="626.6" r="2.8" fill="#8b3fd6" stroke="#10131c" stroke-width="1.3"/>
<circle cx="329.9" cy="631.6" r="2.8" fill="#8b3fd6" stroke="#10131c" stroke-width="1.3"/>
<circle cx="326.4" cy="633.0" r="2.8" fill="#8b3fd6" stroke="#10131c" stroke-width="1.3"/>
<circle cx="326.4" cy="651.4" r="2.8" fill="#8b3fd6" stroke="#10131c" stroke-width="1.3"/>
<path d="M345.1,604.0 V616.4 M345.1,652.0 V674.0 M339.9,604.0 H350.3 M339.9,674.0 H350.3" stroke="#141414" stroke-width="1.7" fill="none"/>
<rect x="336.7" y="616.4" width="17.7" height="35.6" fill="url(#ppurp)" stroke="#141414" stroke-width="1.7"/>
<path d="M336.7,644.6 H354.4" stroke="#141414" stroke-width="1.6"/>
<circle cx="345.1" cy="604.0" r="2.8" fill="#7d45c4" stroke="#10131c" stroke-width="1.3"/>
<circle cx="345.1" cy="612.5" r="2.8" fill="#7d45c4" stroke="#10131c" stroke-width="1.3"/>
<circle cx="345.1" cy="618.8" r="2.8" fill="#7d45c4" stroke="#10131c" stroke-width="1.3"/>
<circle cx="341.7" cy="643.3" r="2.8" fill="#7d45c4" stroke="#10131c" stroke-width="1.3"/>
<circle cx="348.6" cy="641.5" r="2.8" fill="#7d45c4" stroke="#10131c" stroke-width="1.3"/>
<circle cx="338.4" cy="652.1" r="2.8" fill="#7d45c4" stroke="#10131c" stroke-width="1.3"/>
<circle cx="345.1" cy="653.5" r="2.8" fill="#7d45c4" stroke="#10131c" stroke-width="1.3"/>
<circle cx="351.9" cy="652.1" r="2.8" fill="#7d45c4" stroke="#10131c" stroke-width="1.3"/>
<circle cx="345.1" cy="674.0" r="2.8" fill="#7d45c4" stroke="#10131c" stroke-width="1.3"/>
<linearGradient id="ga1" gradientUnits="userSpaceOnUse" x1="157" y1="0" x2="168" y2="0"><stop offset="0" stop-color="#8f2a4b" stop-opacity="0"/><stop offset="1" stop-color="#8f2a4b"/></linearGradient>
<path d="M156.59,691.69 L157.30,691.54 L158.00,691.35 L158.69,691.12 L159.36,690.85 L160.02,690.54 L160.66,690.20 L161.28,689.82 L161.88,689.41 L162.47,688.97 L163.03,688.50 L163.57,687.99 L164.09,687.46 L164.59,686.90 L165.06,686.31 L165.51,685.70 L165.93,685.06 L166.32,684.40 L166.69,683.71 L167.03,683.01 L167.34,682.28 L167.62,681.54 L167.88,680.78 L168.09,680.01 L168.28,679.21 L165.72,678.79 L165.62,679.48 L165.50,680.17 L165.35,680.85 L165.17,681.52 L164.96,682.18 L164.73,682.83 L164.47,683.46 L164.18,684.08 L163.87,684.68 L163.53,685.26 L163.17,685.82 L162.79,686.37 L162.38,686.89 L161.94,687.39 L161.49,687.87 L161.01,688.32 L160.51,688.75 L159.98,689.15 L159.44,689.52 L158.87,689.86 L158.29,690.17 L157.68,690.45 L157.05,690.70 L156.41,690.91 Z" fill="url(#ga1)"/>
<path d="M167.3,670.5 L172.4,681.5 L162,680.5 Z" fill="#8f2a4b"/>
<linearGradient id="ga2" gradientUnits="userSpaceOnUse" x1="157" y1="0" x2="200" y2="0"><stop offset="0" stop-color="#8f2a4b" stop-opacity="0"/><stop offset="0.6" stop-color="#8f2a4b"/></linearGradient>
<path d="M157.01,704.20 L159.38,704.19 L161.73,704.13 L164.06,704.03 L166.35,703.89 L168.62,703.70 L170.85,703.48 L173.05,703.21 L175.21,702.90 L177.32,702.55 L179.39,702.16 L181.41,701.73 L183.38,701.27 L185.29,700.76 L187.15,700.21 L188.95,699.63 L190.69,699.01 L192.36,698.34 L193.96,697.64 L195.50,696.90 L196.96,696.12 L198.35,695.30 L199.65,694.44 L200.88,693.54 L202.03,692.59 L199.97,690.41 L199.03,691.30 L197.98,692.18 L196.84,693.03 L195.61,693.86 L194.29,694.67 L192.88,695.44 L191.40,696.19 L189.83,696.91 L188.20,697.59 L186.49,698.24 L184.71,698.85 L182.87,699.43 L180.97,699.98 L179.02,700.49 L177.00,700.96 L174.94,701.39 L172.83,701.78 L170.68,702.14 L168.48,702.45 L166.25,702.72 L163.98,702.96 L161.68,703.15 L159.35,703.30 L156.99,703.40 Z" fill="url(#ga2)"/>
<path d="M206.2,683.5 L206.6,697 L195.5,689 Z" fill="#8f2a4b"/>
<linearGradient id="ga3" gradientUnits="userSpaceOnUse" x1="337" y1="0" x2="348" y2="0"><stop offset="0" stop-color="#8f2a4b" stop-opacity="0"/><stop offset="0.8" stop-color="#8f2a4b"/></linearGradient>
<path d="M337.34,576.99 L338.00,577.15 L338.64,577.34 L339.25,577.55 L339.84,577.78 L340.40,578.03 L340.93,578.31 L341.44,578.61 L341.91,578.92 L342.37,579.26 L342.79,579.61 L343.19,579.99 L343.56,580.37 L343.91,580.78 L344.22,581.20 L344.52,581.64 L344.79,582.09 L345.03,582.55 L345.24,583.03 L345.44,583.53 L345.60,584.04 L345.74,584.56 L345.86,585.09 L345.95,585.64 L346.02,586.21 L348.58,585.79 L348.42,585.12 L348.23,584.47 L348.01,583.84 L347.75,583.22 L347.47,582.63 L347.16,582.06 L346.82,581.52 L346.46,580.99 L346.07,580.49 L345.65,580.02 L345.21,579.57 L344.74,579.15 L344.25,578.75 L343.73,578.38 L343.20,578.04 L342.64,577.73 L342.06,577.44 L341.46,577.18 L340.84,576.95 L340.21,576.74 L339.55,576.57 L338.87,576.42 L338.18,576.30 L337.46,576.21 Z" fill="url(#ga3)"/>
<path d="M349,596.3 L341.8,584.9 L354.2,584.2 Z" fill="#8f2a4b"/>
<path d="M498,575.3 H504.4 V718.8 H719.8" stroke="#141414" stroke-width="2" fill="none"/>
<path d="M498,575.3 H504.4" stroke="#141414" stroke-width="2"/>
<text x="494.3" y="580.2" font-size="14.2" font-weight="bold" font-style="normal" text-anchor="end" fill="#111" stroke="#111" stroke-width="0.31">800</text>
<path d="M498,604.0 H504.4" stroke="#141414" stroke-width="2"/>
<text x="494.3" y="608.9" font-size="14.2" font-weight="bold" font-style="normal" text-anchor="end" fill="#111" stroke="#111" stroke-width="0.31">700</text>
<path d="M498,632.7 H504.4" stroke="#141414" stroke-width="2"/>
<text x="494.3" y="637.6" font-size="14.2" font-weight="bold" font-style="normal" text-anchor="end" fill="#111" stroke="#111" stroke-width="0.31">600</text>
<path d="M498,661.4 H504.4" stroke="#141414" stroke-width="2"/>
<text x="494.3" y="666.3" font-size="14.2" font-weight="bold" font-style="normal" text-anchor="end" fill="#111" stroke="#111" stroke-width="0.31">500</text>
<path d="M498,690.1 H504.4" stroke="#141414" stroke-width="2"/>
<text x="494.3" y="695.0" font-size="14.2" font-weight="bold" font-style="normal" text-anchor="end" fill="#111" stroke="#111" stroke-width="0.31">400</text>
<path d="M498,718.8 H504.4" stroke="#141414" stroke-width="2"/>
<text x="494.3" y="723.7" font-size="14.2" font-weight="bold" font-style="normal" text-anchor="end" fill="#111" stroke="#111" stroke-width="0.31">300</text>
<path d="M529.6,718.8 V726" stroke="#141414" stroke-width="2"/>
<text x="529.6" y="741.2" font-size="14.2" font-weight="bold" font-style="normal" text-anchor="middle" fill="#111" stroke="#111" stroke-width="0.31">Nx</text>
<path d="M581.4,718.8 V726" stroke="#141414" stroke-width="2"/>
<text x="581.4" y="741.2" font-size="14.2" font-weight="bold" font-style="normal" text-anchor="middle" fill="#111" stroke="#111" stroke-width="0.31">IH</text>
<path d="M641.6,718.8 V726" stroke="#141414" stroke-width="2"/>
<text x="641.6" y="741.2" font-size="14.2" font-weight="bold" font-style="normal" text-anchor="middle" fill="#111" stroke="#111" stroke-width="0.31">Nx</text>
<path d="M693.6,718.8 V726" stroke="#141414" stroke-width="2"/>
<text x="693.6" y="741.2" font-size="14.2" font-weight="bold" font-style="normal" text-anchor="middle" fill="#111" stroke="#111" stroke-width="0.31">IH</text>
<text x="558.6" y="529.2" font-size="23.2" font-weight="normal" font-style="normal" text-anchor="start" fill="#111" textLength="58.2" lengthAdjust="spacingAndGlyphs" stroke="#111" stroke-width="0.51">Heart</text>
<text x="623.7" y="529.2" font-size="23.2" font-weight="normal" font-style="normal" text-anchor="start" fill="#111" textLength="41.7" lengthAdjust="spacingAndGlyphs" stroke="#111" stroke-width="0.51">rate</text>
<text x="525.6" y="564.6" font-size="19.5" font-weight="normal" font-style="normal" text-anchor="start" fill="#111" textLength="45.4" lengthAdjust="spacingAndGlyphs" stroke="#111" stroke-width="0.43">Male</text>
<text x="637.4" y="565.1" font-size="19.5" font-weight="normal" font-style="normal" text-anchor="start" fill="#111" textLength="68.0" lengthAdjust="spacingAndGlyphs" stroke="#111" stroke-width="0.43">Female</text>
<text x="508.2" y="592.1" font-size="13.8" font-weight="normal" font-style="normal" text-anchor="start" fill="#111" textLength="19.4" lengthAdjust="spacingAndGlyphs" stroke="#111" stroke-width="0.3">WT</text>
<text x="532.3" y="592.1" font-size="13.8" font-weight="normal" font-style="normal" text-anchor="start" fill="#111" textLength="17.3" lengthAdjust="spacingAndGlyphs" stroke="#111" stroke-width="0.3">KO</text>
<path d="M521.0,604.6 V616.2 M521.0,633.2 V661.2 M515.8,604.6 H526.2 M515.8,661.2 H526.2" stroke="#141414" stroke-width="1.7" fill="none"/>
<rect x="512.7" y="616.2" width="16.3" height="17.0" fill="#2289ea" stroke="#141414" stroke-width="1.7"/>
<path d="M512.7,621.6 H529.0" stroke="#141414" stroke-width="1.6"/>
<circle cx="521.0" cy="604.6" r="2.8" fill="#8fd3ea" stroke="#10131c" stroke-width="1.3"/>
<circle cx="514.6" cy="613.4" r="2.8" fill="#8fd3ea" stroke="#10131c" stroke-width="1.3"/>
<circle cx="526.9" cy="612.4" r="2.8" fill="#8fd3ea" stroke="#10131c" stroke-width="1.3"/>
<circle cx="519.1" cy="615.5" r="2.8" fill="#8fd3ea" stroke="#10131c" stroke-width="1.3"/>
<circle cx="523.4" cy="615.2" r="2.8" fill="#8fd3ea" stroke="#10131c" stroke-width="1.3"/>
<circle cx="514.6" cy="619.7" r="2.8" fill="#8fd3ea" stroke="#10131c" stroke-width="1.3"/>
<circle cx="519.1" cy="620.4" r="2.8" fill="#8fd3ea" stroke="#10131c" stroke-width="1.3"/>
<circle cx="522.7" cy="624.0" r="2.8" fill="#8fd3ea" stroke="#10131c" stroke-width="1.3"/>
<circle cx="526.9" cy="622.8" r="2.8" fill="#8fd3ea" stroke="#10131c" stroke-width="1.3"/>
<circle cx="519.1" cy="628.2" r="2.8" fill="#8fd3ea" stroke="#10131c" stroke-width="1.3"/>
<circle cx="522.7" cy="630.3" r="2.8" fill="#8fd3ea" stroke="#10131c" stroke-width="1.3"/>
<circle cx="521.0" cy="637.4" r="2.8" fill="#8fd3ea" stroke="#10131c" stroke-width="1.3"/>
<circle cx="521.0" cy="650.9" r="2.8" fill="#8fd3ea" stroke="#10131c" stroke-width="1.3"/>
<circle cx="521.0" cy="661.2" r="2.8" fill="#8fd3ea" stroke="#10131c" stroke-width="1.3"/>
<path d="M538.2,604.6 V619.0 M538.2,642.4 V673.2 M533.0,604.6 H543.4 M533.0,673.2 H543.4" stroke="#141414" stroke-width="1.7" fill="none"/>
<rect x="530.2" y="619.0" width="16.2" height="23.4" fill="url(#pblue)" stroke="#141414" stroke-width="1.7"/>
<circle cx="538.2" cy="604.6" r="2.8" fill="#2d6f9a" stroke="#10131c" stroke-width="1.3"/>
<circle cx="538.2" cy="615.2" r="2.8" fill="#2d6f9a" stroke="#10131c" stroke-width="1.3"/>
<circle cx="531.9" cy="621.9" r="2.8" fill="#2d6f9a" stroke="#10131c" stroke-width="1.3"/>
<circle cx="544.6" cy="624.7" r="2.8" fill="#2d6f9a" stroke="#10131c" stroke-width="1.3"/>
<circle cx="531.9" cy="628.2" r="2.8" fill="#2d6f9a" stroke="#10131c" stroke-width="1.3"/>
<circle cx="538.2" cy="627.9" r="2.8" fill="#2d6f9a" stroke="#10131c" stroke-width="1.3"/>
<circle cx="544.6" cy="630.3" r="2.8" fill="#2d6f9a" stroke="#10131c" stroke-width="1.3"/>
<circle cx="538.2" cy="656.3" r="2.8" fill="#2d6f9a" stroke="#10131c" stroke-width="1.3"/>
<circle cx="538.2" cy="673.2" r="2.8" fill="#2d6f9a" stroke="#10131c" stroke-width="1.3"/>
<path d="M572.9,624.7 V637.4 M572.9,663.3 V687.0 M567.7,624.7 H578.1 M567.7,687.0 H578.1" stroke="#141414" stroke-width="1.7" fill="none"/>
<rect x="564.4" y="637.4" width="17.0" height="25.9" fill="#2289ea" stroke="#141414" stroke-width="1.7"/>
<path d="M564.4,647.0 H581.4" stroke="#141414" stroke-width="1.6"/>
<circle cx="576.0" cy="621.9" r="2.8" fill="#8fd3ea" stroke="#10131c" stroke-width="1.3"/>
<circle cx="569.6" cy="625.4" r="2.8" fill="#8fd3ea" stroke="#10131c" stroke-width="1.3"/>
<circle cx="579.0" cy="635.0" r="2.8" fill="#8fd3ea" stroke="#10131c" stroke-width="1.3"/>
<circle cx="566.5" cy="639.3" r="2.8" fill="#8fd3ea" stroke="#10131c" stroke-width="1.3"/>
<circle cx="572.9" cy="638.8" r="2.8" fill="#8fd3ea" stroke="#10131c" stroke-width="1.3"/>
<circle cx="579.0" cy="643.5" r="2.8" fill="#8fd3ea" stroke="#10131c" stroke-width="1.3"/>
<circle cx="572.9" cy="647.8" r="2.8" fill="#8fd3ea" stroke="#10131c" stroke-width="1.3"/>
<circle cx="566.5" cy="655.1" r="2.8" fill="#8fd3ea" stroke="#10131c" stroke-width="1.3"/>
<circle cx="572.9" cy="658.2" r="2.8" fill="#8fd3ea" stroke="#10131c" stroke-width="1.3"/>
<circle cx="579.0" cy="656.5" r="2.8" fill="#8fd3ea" stroke="#10131c" stroke-width="1.3"/>
<circle cx="572.9" cy="670.0" r="2.8" fill="#8fd3ea" stroke="#10131c" stroke-width="1.3"/>
<circle cx="572.9" cy="679.9" r="2.8" fill="#8fd3ea" stroke="#10131c" stroke-width="1.3"/>
<circle cx="572.9" cy="687.0" r="2.8" fill="#8fd3ea" stroke="#10131c" stroke-width="1.3"/>
<path d="M590.3,610.5 V636.4 M590.3,682.0 V682.0 M585.1,610.5 H595.5 M585.1,682.0 H595.5" stroke="#141414" stroke-width="1.7" fill="none"/>
<rect x="582.1" y="636.4" width="16.6" height="45.6" fill="url(#pblue)" stroke="#141414" stroke-width="1.7"/>
<path d="M582.1,669.6 H598.7" stroke="#141414" stroke-width="1.6"/>
<circle cx="590.3" cy="610.5" r="2.8" fill="#4f8fcf" stroke="#10131c" stroke-width="1.3"/>
<circle cx="590.3" cy="628.2" r="2.8" fill="#4f8fcf" stroke="#10131c" stroke-width="1.3"/>
<circle cx="590.3" cy="656.5" r="2.8" fill="#4f8fcf" stroke="#10131c" stroke-width="1.3"/>
<circle cx="590.3" cy="665.0" r="2.8" fill="#4f8fcf" stroke="#10131c" stroke-width="1.3"/>
<circle cx="590.3" cy="674.9" r="2.8" fill="#4f8fcf" stroke="#10131c" stroke-width="1.3"/>
<circle cx="584.2" cy="682.7" r="2.8" fill="#4f8fcf" stroke="#10131c" stroke-width="1.3"/>
<circle cx="590.3" cy="680.6" r="2.8" fill="#4f8fcf" stroke="#10131c" stroke-width="1.3"/>
<circle cx="596.7" cy="682.3" r="2.8" fill="#4f8fcf" stroke="#10131c" stroke-width="1.3"/>
<path d="M633.1,604.6 V614.8 M633.1,628.2 V642.1 M627.9,604.6 H638.3 M627.9,642.1 H638.3" stroke="#141414" stroke-width="1.7" fill="none"/>
<rect x="625.2" y="614.8" width="16.0" height="13.4" fill="#cb7cf3" stroke="#141414" stroke-width="1.7"/>
<circle cx="633.1" cy="604.6" r="2.8" fill="#8b3fd6" stroke="#10131c" stroke-width="1.3"/>
<circle cx="635.5" cy="611.2" r="2.8" fill="#8b3fd6" stroke="#10131c" stroke-width="1.3"/>
<circle cx="631.7" cy="613.8" r="2.8" fill="#8b3fd6" stroke="#10131c" stroke-width="1.3"/>
<circle cx="627.7" cy="621.1" r="2.8" fill="#8b3fd6" stroke="#10131c" stroke-width="1.3"/>
<circle cx="631.7" cy="622.8" r="2.8" fill="#8b3fd6" stroke="#10131c" stroke-width="1.3"/>
<circle cx="635.5" cy="621.9" r="2.8" fill="#8b3fd6" stroke="#10131c" stroke-width="1.3"/>
<circle cx="639.3" cy="623.7" r="2.8" fill="#8b3fd6" stroke="#10131c" stroke-width="1.3"/>
<circle cx="627.7" cy="626.5" r="2.8" fill="#8b3fd6" stroke="#10131c" stroke-width="1.3"/>
<circle cx="631.7" cy="628.9" r="2.8" fill="#8b3fd6" stroke="#10131c" stroke-width="1.3"/>
<circle cx="635.5" cy="628.5" r="2.8" fill="#8b3fd6" stroke="#10131c" stroke-width="1.3"/>
<circle cx="639.3" cy="631.1" r="2.8" fill="#8b3fd6" stroke="#10131c" stroke-width="1.3"/>
<circle cx="633.1" cy="642.1" r="2.8" fill="#8b3fd6" stroke="#10131c" stroke-width="1.3"/>
<path d="M650.4,604.6 V621.9 M650.4,637.4 V656.3 M645.2,604.6 H655.6 M645.2,656.3 H655.6" stroke="#141414" stroke-width="1.7" fill="none"/>
<rect x="642.6" y="621.9" width="15.6" height="15.5" fill="url(#ppurp)" stroke="#141414" stroke-width="1.7"/>
<circle cx="650.4" cy="604.6" r="2.8" fill="#7d45c4" stroke="#10131c" stroke-width="1.3"/>
<circle cx="653.2" cy="616.9" r="2.8" fill="#7d45c4" stroke="#10131c" stroke-width="1.3"/>
<circle cx="657.0" cy="620.0" r="2.8" fill="#7d45c4" stroke="#10131c" stroke-width="1.3"/>
<circle cx="645.4" cy="621.9" r="2.8" fill="#7d45c4" stroke="#10131c" stroke-width="1.3"/>
<circle cx="653.2" cy="623.3" r="2.8" fill="#7d45c4" stroke="#10131c" stroke-width="1.3"/>
<circle cx="650.4" cy="625.4" r="2.8" fill="#7d45c4" stroke="#10131c" stroke-width="1.3"/>
<circle cx="650.4" cy="636.0" r="2.8" fill="#7d45c4" stroke="#10131c" stroke-width="1.3"/>
<circle cx="650.4" cy="643.5" r="2.8" fill="#7d45c4" stroke="#10131c" stroke-width="1.3"/>
<circle cx="650.4" cy="656.3" r="2.8" fill="#7d45c4" stroke="#10131c" stroke-width="1.3"/>
<path d="M685.1,617.0 V624.7 M685.1,648.5 V648.5 M679.9,617.0 H690.3 M679.9,648.5 H690.3" stroke="#141414" stroke-width="1.7" fill="none"/>
<rect x="677.3" y="624.7" width="15.6" height="23.8" fill="#cb7cf3" stroke="#141414" stroke-width="1.7"/>
<path d="M677.3,639.6 H692.9" stroke="#141414" stroke-width="1.6"/>
<circle cx="686.9" cy="616.6" r="2.8" fill="#8b3fd6" stroke="#10131c" stroke-width="1.3"/>
<circle cx="683.0" cy="619.7" r="2.8" fill="#8b3fd6" stroke="#10131c" stroke-width="1.3"/>
<circle cx="686.9" cy="622.8" r="2.8" fill="#8b3fd6" stroke="#10131c" stroke-width="1.3"/>
<circle cx="683.0" cy="625.7" r="2.8" fill="#8b3fd6" stroke="#10131c" stroke-width="1.3"/>
<circle cx="685.1" cy="633.6" r="2.8" fill="#8b3fd6" stroke="#10131c" stroke-width="1.3"/>
<circle cx="678.7" cy="642.1" r="2.8" fill="#8b3fd6" stroke="#10131c" stroke-width="1.3"/>
<circle cx="683.0" cy="644.9" r="2.8" fill="#8b3fd6" stroke="#10131c" stroke-width="1.3"/>
<circle cx="687.2" cy="641.7" r="2.8" fill="#8b3fd6" stroke="#10131c" stroke-width="1.3"/>
<circle cx="691.4" cy="639.5" r="2.8" fill="#8b3fd6" stroke="#10131c" stroke-width="1.3"/>
<circle cx="683.0" cy="648.0" r="2.8" fill="#8b3fd6" stroke="#10131c" stroke-width="1.3"/>
<circle cx="687.2" cy="648.3" r="2.8" fill="#8b3fd6" stroke="#10131c" stroke-width="1.3"/>
<circle cx="691.4" cy="647.8" r="2.8" fill="#8b3fd6" stroke="#10131c" stroke-width="1.3"/>
<circle cx="678.7" cy="650.2" r="2.8" fill="#8b3fd6" stroke="#10131c" stroke-width="1.3"/>
<path d="M703.1,622.5 V625.4 M703.1,647.3 V647.3 M697.9,622.5 H708.3 M697.9,647.3 H708.3" stroke="#141414" stroke-width="1.7" fill="none"/>
<rect x="695.4" y="625.4" width="15.2" height="21.9" fill="url(#ppurp)" stroke="#141414" stroke-width="1.7"/>
<circle cx="698.8" cy="622.6" r="2.8" fill="#7d45c4" stroke="#10131c" stroke-width="1.3"/>
<circle cx="703.5" cy="624.3" r="2.8" fill="#7d45c4" stroke="#10131c" stroke-width="1.3"/>
<circle cx="696.4" cy="648.0" r="2.8" fill="#7d45c4" stroke="#10131c" stroke-width="1.3"/>
<circle cx="698.8" cy="643.5" r="2.8" fill="#7d45c4" stroke="#10131c" stroke-width="1.3"/>
<circle cx="703.5" cy="644.5" r="2.8" fill="#7d45c4" stroke="#10131c" stroke-width="1.3"/>
<circle cx="707.0" cy="645.9" r="2.8" fill="#7d45c4" stroke="#10131c" stroke-width="1.3"/>
<circle cx="709.6" cy="645.2" r="2.8" fill="#7d45c4" stroke="#10131c" stroke-width="1.3"/>
<circle cx="706.7" cy="648.3" r="2.8" fill="#7d45c4" stroke="#10131c" stroke-width="1.3"/>
<linearGradient id="ga4" gradientUnits="userSpaceOnUse" x1="0" y1="674" x2="0" y2="700"><stop offset="0" stop-color="#8f2a4b" stop-opacity="0"/><stop offset="0.7" stop-color="#8f2a4b"/></linearGradient>
<path d="M529.30,675.03 L529.48,676.92 L529.77,678.76 L530.17,680.57 L530.68,682.33 L531.29,684.05 L532.01,685.72 L532.83,687.34 L533.74,688.91 L534.76,690.43 L535.86,691.89 L537.06,693.29 L538.35,694.63 L539.72,695.91 L541.18,697.12 L542.71,698.26 L544.33,699.34 L546.02,700.34 L547.79,701.27 L549.62,702.12 L551.53,702.90 L553.50,703.59 L555.53,704.21 L557.62,704.74 L559.77,705.18 L560.23,702.42 L558.18,702.08 L556.18,701.66 L554.24,701.15 L552.36,700.57 L550.53,699.92 L548.77,699.19 L547.06,698.38 L545.43,697.51 L543.86,696.56 L542.36,695.55 L540.93,694.47 L539.58,693.32 L538.30,692.11 L537.11,690.84 L536.00,689.50 L534.97,688.11 L534.03,686.66 L533.17,685.15 L532.42,683.58 L531.75,681.96 L531.18,680.29 L530.72,678.56 L530.35,676.79 L530.10,674.97 Z" fill="url(#ga4)"/>
<path d="M570.6,705.7 L559,710.5 L560.3,698.7 Z" fill="#8f2a4b"/>
<linearGradient id="ga5" gradientUnits="userSpaceOnUse" x1="589" y1="0" x2="680" y2="0"><stop offset="0" stop-color="#8f2a4b" stop-opacity="0"/><stop offset="0.5" stop-color="#8f2a4b"/></linearGradient>
<path d="M589.01,708.40 L594.72,708.28 L600.33,708.08 L605.84,707.79 L611.24,707.41 L616.52,706.93 L621.68,706.37 L626.72,705.70 L631.62,704.94 L636.39,704.07 L641.01,703.10 L645.48,702.02 L649.79,700.83 L653.95,699.53 L657.93,698.12 L661.75,696.58 L665.39,694.93 L668.84,693.14 L672.11,691.23 L675.18,689.19 L678.05,687.01 L680.71,684.69 L683.15,682.23 L685.37,679.62 L687.35,676.86 L684.65,675.14 L682.90,677.75 L680.91,680.23 L678.69,682.61 L676.25,684.87 L673.58,687.01 L670.70,689.05 L667.61,690.97 L664.32,692.78 L660.82,694.48 L657.13,696.07 L653.26,697.55 L649.21,698.92 L644.98,700.18 L640.59,701.35 L636.04,702.40 L631.34,703.36 L626.49,704.22 L621.50,704.98 L616.38,705.64 L611.13,706.21 L605.76,706.69 L600.28,707.08 L594.69,707.38 L588.99,707.60 Z" fill="url(#ga5)"/>
<path d="M690.6,667.6 L693.8,680.5 L682.2,678.6 Z" fill="#8f2a4b"/>
<text x="845.5" y="529.7" font-size="23.5" font-weight="normal" font-style="normal" text-anchor="start" fill="#111" textLength="59.8" lengthAdjust="spacingAndGlyphs" stroke="#111" stroke-width="0.52">Heart</text>
<text x="911.3" y="529.7" font-size="23.5" font-weight="normal" font-style="normal" text-anchor="start" fill="#111" textLength="40.6" lengthAdjust="spacingAndGlyphs" stroke="#111" stroke-width="0.52">rate</text>
<text x="958.0" y="529.7" font-size="23.5" font-weight="normal" font-style="normal" text-anchor="start" fill="#111" textLength="101.7" lengthAdjust="spacingAndGlyphs" stroke="#111" stroke-width="0.52">variability</text>
<text x="1066.5" y="529.7" font-size="23.5" font-weight="normal" font-style="normal" text-anchor="start" fill="#111" textLength="7.2" lengthAdjust="spacingAndGlyphs" stroke="#111" stroke-width="0.52">-</text>
<text x="1079.3" y="529.7" font-size="23.5" font-weight="normal" font-style="normal" text-anchor="start" fill="#111" textLength="29.0" lengthAdjust="spacingAndGlyphs" stroke="#111" stroke-width="0.52">Nx</text>
<text x="857.9" y="663.9" font-size="23.8" font-weight="normal" font-style="normal" text-anchor="start" fill="#111" textLength="59.7" lengthAdjust="spacingAndGlyphs" stroke="#111" stroke-width="0.52">Heart</text>
<text x="923.7" y="663.9" font-size="23.8" font-weight="normal" font-style="normal" text-anchor="start" fill="#111" textLength="40.6" lengthAdjust="spacingAndGlyphs" stroke="#111" stroke-width="0.52">rate</text>
<text x="970.3" y="663.9" font-size="23.8" font-weight="normal" font-style="normal" text-anchor="start" fill="#111" textLength="101.8" lengthAdjust="spacingAndGlyphs" stroke="#111" stroke-width="0.52">variability</text>
<text x="1078.8" y="663.9" font-size="23.8" font-weight="normal" font-style="normal" text-anchor="start" fill="#111" textLength="7.3" lengthAdjust="spacingAndGlyphs" stroke="#111" stroke-width="0.52">-</text>
<text x="1092.1" y="663.9" font-size="23.8" font-weight="normal" font-style="normal" text-anchor="start" fill="#111" textLength="22.4" lengthAdjust="spacingAndGlyphs" stroke="#111" stroke-width="0.52">IH</text>
<text x="869.0" y="559.4" font-size="16.6" font-weight="normal" font-style="normal" text-anchor="start" fill="#111" textLength="34.8" lengthAdjust="spacingAndGlyphs" stroke="#111" stroke-width="0.37">FWT</text>
<text x="1043.8" y="559.4" font-size="16.6" font-weight="normal" font-style="normal" text-anchor="start" fill="#111" textLength="32.1" lengthAdjust="spacingAndGlyphs" stroke="#111" stroke-width="0.37">FKO</text>
<path d="M955.8,584.6 H966.7 M955.8,590 H966.7" stroke="#111" stroke-width="2.3"/>
<path d="M961.4,719.7 L970.8,724 L961.4,728.3" stroke="#111" stroke-width="2.3" fill="none"/>
<path d="M843.3,544.2 H847.5 V625.2 H928.6 V629.4" stroke="#141414" stroke-width="1.3" fill="none"/>
<path d="M843.3,544.2 H847.5" stroke="#141414" stroke-width="1.3"/>
<text x="841.1" y="546.9" font-size="7.8" font-weight="bold" font-style="normal" text-anchor="end" fill="#111" stroke="#111" stroke-width="0.17">160</text>
<path d="M843.3,564.5 H847.5" stroke="#141414" stroke-width="1.3"/>
<text x="841.1" y="567.2" font-size="7.8" font-weight="bold" font-style="normal" text-anchor="end" fill="#111" stroke="#111" stroke-width="0.17">140</text>
<path d="M843.3,584.7 H847.5" stroke="#141414" stroke-width="1.3"/>
<text x="841.1" y="587.4" font-size="7.8" font-weight="bold" font-style="normal" text-anchor="end" fill="#111" stroke="#111" stroke-width="0.17">120</text>
<path d="M843.3,605.0 H847.5" stroke="#141414" stroke-width="1.3"/>
<text x="841.1" y="607.7" font-size="7.8" font-weight="bold" font-style="normal" text-anchor="end" fill="#111" stroke="#111" stroke-width="0.17">100</text>
<path d="M843.3,625.2 H847.5" stroke="#141414" stroke-width="1.3"/>
<text x="841.1" y="627.9" font-size="7.8" font-weight="bold" font-style="normal" text-anchor="end" fill="#111" stroke="#111" stroke-width="0.17">80</text>
<path d="M847.5,625.2 V629.4" stroke="#141414" stroke-width="1.3"/>
<text x="847.5" y="639.4" font-size="7.8" font-weight="bold" font-style="normal" text-anchor="middle" fill="#111" stroke="#111" stroke-width="0.17">80</text>
<path d="M867.8,625.2 V629.4" stroke="#141414" stroke-width="1.3"/>
<text x="867.8" y="639.4" font-size="7.8" font-weight="bold" font-style="normal" text-anchor="middle" fill="#111" stroke="#111" stroke-width="0.17">100</text>
<path d="M888.0,625.2 V629.4" stroke="#141414" stroke-width="1.3"/>
<text x="888.0" y="639.4" font-size="7.8" font-weight="bold" font-style="normal" text-anchor="middle" fill="#111" stroke="#111" stroke-width="0.17">120</text>
<path d="M908.3,625.2 V629.4" stroke="#141414" stroke-width="1.3"/>
<text x="908.3" y="639.4" font-size="7.8" font-weight="bold" font-style="normal" text-anchor="middle" fill="#111" stroke="#111" stroke-width="0.17">140</text>
<path d="M928.6,625.2 V629.4" stroke="#141414" stroke-width="1.3"/>
<text x="928.6" y="639.4" font-size="7.8" font-weight="bold" font-style="normal" text-anchor="middle" fill="#111" stroke="#111" stroke-width="0.17">160</text>
<circle cx="852.5" cy="613.8" r="1.5" fill="#cdb3e0" stroke="#170822" stroke-width="1.15"/>
<circle cx="852.2" cy="620.9" r="1.5" fill="#cdb3e0" stroke="#170822" stroke-width="1.15"/>
<circle cx="853.2" cy="619.8" r="1.5" fill="#cdb3e0" stroke="#170822" stroke-width="1.15"/>
<circle cx="856.0" cy="620.2" r="1.5" fill="#cdb3e0" stroke="#170822" stroke-width="1.15"/>
<circle cx="855.3" cy="616.7" r="1.5" fill="#cdb3e0" stroke="#170822" stroke-width="1.15"/>
<circle cx="856.0" cy="606.7" r="1.5" fill="#cdb3e0" stroke="#170822" stroke-width="1.15"/>
<circle cx="857.4" cy="607.0" r="1.5" fill="#cdb3e0" stroke="#170822" stroke-width="1.15"/>
<circle cx="859.1" cy="602.2" r="1.5" fill="#cdb3e0" stroke="#170822" stroke-width="1.15"/>
<circle cx="857.4" cy="617.0" r="1.5" fill="#cdb3e0" stroke="#170822" stroke-width="1.15"/>
<circle cx="858.8" cy="613.8" r="1.5" fill="#cdb3e0" stroke="#170822" stroke-width="1.15"/>
<circle cx="859.5" cy="611.0" r="1.5" fill="#cdb3e0" stroke="#170822" stroke-width="1.15"/>
<circle cx="860.9" cy="615.3" r="1.5" fill="#cdb3e0" stroke="#170822" stroke-width="1.15"/>
<circle cx="861.7" cy="612.4" r="1.5" fill="#cdb3e0" stroke="#170822" stroke-width="1.15"/>
<circle cx="862.4" cy="609.6" r="1.5" fill="#cdb3e0" stroke="#170822" stroke-width="1.15"/>
<circle cx="863.1" cy="614.5" r="1.5" fill="#cdb3e0" stroke="#170822" stroke-width="1.15"/>
<circle cx="863.8" cy="611.7" r="1.5" fill="#cdb3e0" stroke="#170822" stroke-width="1.15"/>
<circle cx="864.5" cy="607.4" r="1.5" fill="#cdb3e0" stroke="#170822" stroke-width="1.15"/>
<circle cx="865.2" cy="613.8" r="1.5" fill="#cdb3e0" stroke="#170822" stroke-width="1.15"/>
<circle cx="865.9" cy="609.6" r="1.5" fill="#cdb3e0" stroke="#170822" stroke-width="1.15"/>
<circle cx="863.1" cy="605.3" r="1.5" fill="#cdb3e0" stroke="#170822" stroke-width="1.15"/>
<circle cx="866.6" cy="601.0" r="1.5" fill="#cdb3e0" stroke="#170822" stroke-width="1.15"/>
<circle cx="867.0" cy="605.3" r="1.5" fill="#cdb3e0" stroke="#170822" stroke-width="1.15"/>
<circle cx="867.3" cy="611.7" r="1.5" fill="#cdb3e0" stroke="#170822" stroke-width="1.15"/>
<circle cx="868.0" cy="607.9" r="1.5" fill="#cdb3e0" stroke="#170822" stroke-width="1.15"/>
<circle cx="868.7" cy="602.5" r="1.5" fill="#cdb3e0" stroke="#170822" stroke-width="1.15"/>
<circle cx="869.2" cy="613.1" r="1.5" fill="#cdb3e0" stroke="#170822" stroke-width="1.15"/>
<circle cx="869.4" cy="609.6" r="1.5" fill="#cdb3e0" stroke="#170822" stroke-width="1.15"/>
<circle cx="870.1" cy="605.3" r="1.5" fill="#cdb3e0" stroke="#170822" stroke-width="1.15"/>
<circle cx="870.9" cy="600.3" r="1.5" fill="#cdb3e0" stroke="#170822" stroke-width="1.15"/>
<circle cx="871.3" cy="607.4" r="1.5" fill="#cdb3e0" stroke="#170822" stroke-width="1.15"/>
<circle cx="871.6" cy="603.2" r="1.5" fill="#cdb3e0" stroke="#170822" stroke-width="1.15"/>
<circle cx="872.3" cy="596.1" r="1.5" fill="#cdb3e0" stroke="#170822" stroke-width="1.15"/>
<circle cx="872.7" cy="601.0" r="1.5" fill="#cdb3e0" stroke="#170822" stroke-width="1.15"/>
<circle cx="873.0" cy="603.9" r="1.5" fill="#cdb3e0" stroke="#170822" stroke-width="1.15"/>
<circle cx="873.3" cy="598.9" r="1.5" fill="#cdb3e0" stroke="#170822" stroke-width="1.15"/>
<circle cx="871.6" cy="595.6" r="1.5" fill="#cdb3e0" stroke="#170822" stroke-width="1.15"/>
<circle cx="875.8" cy="589.4" r="1.5" fill="#cdb3e0" stroke="#170822" stroke-width="1.15"/>
<circle cx="876.9" cy="590.4" r="1.5" fill="#cdb3e0" stroke="#170822" stroke-width="1.15"/>
<circle cx="877.2" cy="592.8" r="1.5" fill="#cdb3e0" stroke="#170822" stroke-width="1.15"/>
<circle cx="879.3" cy="592.2" r="1.5" fill="#cdb3e0" stroke="#170822" stroke-width="1.15"/>
<circle cx="881.0" cy="585.4" r="1.5" fill="#cdb3e0" stroke="#170822" stroke-width="1.15"/>
<circle cx="882.2" cy="591.4" r="1.5" fill="#cdb3e0" stroke="#170822" stroke-width="1.15"/>
<circle cx="882.9" cy="590.8" r="1.5" fill="#cdb3e0" stroke="#170822" stroke-width="1.15"/>
<circle cx="887.4" cy="592.9" r="1.5" fill="#cdb3e0" stroke="#170822" stroke-width="1.15"/>
<circle cx="883.6" cy="600.3" r="1.5" fill="#cdb3e0" stroke="#170822" stroke-width="1.15"/>
<circle cx="880.1" cy="601.0" r="1.5" fill="#cdb3e0" stroke="#170822" stroke-width="1.15"/>
<circle cx="880.3" cy="603.9" r="1.5" fill="#cdb3e0" stroke="#170822" stroke-width="1.15"/>
<path d="M1016.6,544.2 H1020.8 V625.2 H1101.3 V629.4" stroke="#141414" stroke-width="1.3" fill="none"/>
<path d="M1016.6,544.2 H1020.8" stroke="#141414" stroke-width="1.3"/>
<text x="1014.4" y="546.9" font-size="7.8" font-weight="bold" font-style="normal" text-anchor="end" fill="#111" stroke="#111" stroke-width="0.17">160</text>
<path d="M1016.6,564.5 H1020.8" stroke="#141414" stroke-width="1.3"/>
<text x="1014.4" y="567.2" font-size="7.8" font-weight="bold" font-style="normal" text-anchor="end" fill="#111" stroke="#111" stroke-width="0.17">140</text>
<path d="M1016.6,584.7 H1020.8" stroke="#141414" stroke-width="1.3"/>
<text x="1014.4" y="587.4" font-size="7.8" font-weight="bold" font-style="normal" text-anchor="end" fill="#111" stroke="#111" stroke-width="0.17">120</text>
<path d="M1016.6,605.0 H1020.8" stroke="#141414" stroke-width="1.3"/>
<text x="1014.4" y="607.7" font-size="7.8" font-weight="bold" font-style="normal" text-anchor="end" fill="#111" stroke="#111" stroke-width="0.17">100</text>
<path d="M1016.6,625.2 H1020.8" stroke="#141414" stroke-width="1.3"/>
<text x="1014.4" y="627.9" font-size="7.8" font-weight="bold" font-style="normal" text-anchor="end" fill="#111" stroke="#111" stroke-width="0.17">80</text>
<path d="M1020.8,625.2 V629.4" stroke="#141414" stroke-width="1.3"/>
<text x="1020.8" y="639.4" font-size="7.8" font-weight="bold" font-style="normal" text-anchor="middle" fill="#111" stroke="#111" stroke-width="0.17">80</text>
<path d="M1040.9,625.2 V629.4" stroke="#141414" stroke-width="1.3"/>
<text x="1040.9" y="639.4" font-size="7.8" font-weight="bold" font-style="normal" text-anchor="middle" fill="#111" stroke="#111" stroke-width="0.17">100</text>
<path d="M1061.0,625.2 V629.4" stroke="#141414" stroke-width="1.3"/>
<text x="1061.0" y="639.4" font-size="7.8" font-weight="bold" font-style="normal" text-anchor="middle" fill="#111" stroke="#111" stroke-width="0.17">120</text>
<path d="M1081.2,625.2 V629.4" stroke="#141414" stroke-width="1.3"/>
<text x="1081.2" y="639.4" font-size="7.8" font-weight="bold" font-style="normal" text-anchor="middle" fill="#111" stroke="#111" stroke-width="0.17">140</text>
<path d="M1101.3,625.2 V629.4" stroke="#141414" stroke-width="1.3"/>
<text x="1101.3" y="639.4" font-size="7.8" font-weight="bold" font-style="normal" text-anchor="middle" fill="#111" stroke="#111" stroke-width="0.17">160</text>
<circle cx="1028.6" cy="614.2" r="1.5" fill="#f3edf8" stroke="#170822" stroke-width="1.15"/>
<circle cx="1031.9" cy="617.2" r="1.5" fill="#f3edf8" stroke="#170822" stroke-width="1.15"/>
<circle cx="1031.2" cy="612.0" r="1.5" fill="#f3edf8" stroke="#170822" stroke-width="1.15"/>
<circle cx="1034.5" cy="614.6" r="1.5" fill="#f3edf8" stroke="#170822" stroke-width="1.15"/>
<circle cx="1036.4" cy="615.5" r="1.5" fill="#f3edf8" stroke="#170822" stroke-width="1.15"/>
<circle cx="1033.5" cy="611.3" r="1.5" fill="#f3edf8" stroke="#170822" stroke-width="1.15"/>
<circle cx="1035.8" cy="609.4" r="1.5" fill="#f3edf8" stroke="#170822" stroke-width="1.15"/>
<circle cx="1037.4" cy="612.0" r="1.5" fill="#f3edf8" stroke="#170822" stroke-width="1.15"/>
<circle cx="1033.8" cy="602.6" r="1.5" fill="#f3edf8" stroke="#170822" stroke-width="1.15"/>
<circle cx="1033.5" cy="606.1" r="1.5" fill="#f3edf8" stroke="#170822" stroke-width="1.15"/>
<circle cx="1036.4" cy="606.1" r="1.5" fill="#f3edf8" stroke="#170822" stroke-width="1.15"/>
<circle cx="1038.3" cy="608.7" r="1.5" fill="#f3edf8" stroke="#170822" stroke-width="1.15"/>
<circle cx="1040.9" cy="611.0" r="1.5" fill="#f3edf8" stroke="#170822" stroke-width="1.15"/>
<circle cx="1043.5" cy="612.0" r="1.5" fill="#f3edf8" stroke="#170822" stroke-width="1.15"/>
<circle cx="1040.0" cy="604.8" r="1.5" fill="#f3edf8" stroke="#170822" stroke-width="1.15"/>
<circle cx="1040.6" cy="607.4" r="1.5" fill="#f3edf8" stroke="#170822" stroke-width="1.15"/>
<circle cx="1043.2" cy="609.4" r="1.5" fill="#f3edf8" stroke="#170822" stroke-width="1.15"/>
<circle cx="1040.9" cy="601.9" r="1.5" fill="#f3edf8" stroke="#170822" stroke-width="1.15"/>
<circle cx="1043.5" cy="603.5" r="1.5" fill="#f3edf8" stroke="#170822" stroke-width="1.15"/>
<circle cx="1043.9" cy="606.5" r="1.5" fill="#f3edf8" stroke="#170822" stroke-width="1.15"/>
<circle cx="1046.5" cy="604.5" r="1.5" fill="#f3edf8" stroke="#170822" stroke-width="1.15"/>
<circle cx="1041.3" cy="598.3" r="1.5" fill="#f3edf8" stroke="#170822" stroke-width="1.15"/>
<circle cx="1043.5" cy="600.6" r="1.5" fill="#f3edf8" stroke="#170822" stroke-width="1.15"/>
<circle cx="1046.1" cy="602.2" r="1.5" fill="#f3edf8" stroke="#170822" stroke-width="1.15"/>
<circle cx="1047.4" cy="600.6" r="1.5" fill="#f3edf8" stroke="#170822" stroke-width="1.15"/>
<circle cx="1045.5" cy="597.7" r="1.5" fill="#f3edf8" stroke="#170822" stroke-width="1.15"/>
<circle cx="1048.4" cy="597.7" r="1.5" fill="#f3edf8" stroke="#170822" stroke-width="1.15"/>
<circle cx="1050.3" cy="600.3" r="1.5" fill="#f3edf8" stroke="#170822" stroke-width="1.15"/>
<circle cx="1052.9" cy="602.9" r="1.5" fill="#f3edf8" stroke="#170822" stroke-width="1.15"/>
<circle cx="1054.2" cy="599.6" r="1.5" fill="#f3edf8" stroke="#170822" stroke-width="1.15"/>
<circle cx="1051.0" cy="595.8" r="1.5" fill="#f3edf8" stroke="#170822" stroke-width="1.15"/>
<circle cx="1047.7" cy="592.8" r="1.5" fill="#f3edf8" stroke="#170822" stroke-width="1.15"/>
<circle cx="1044.8" cy="594.5" r="1.5" fill="#f3edf8" stroke="#170822" stroke-width="1.15"/>
<circle cx="1042.6" cy="595.8" r="1.5" fill="#f3edf8" stroke="#170822" stroke-width="1.15"/>
<circle cx="1039.0" cy="593.8" r="1.5" fill="#f3edf8" stroke="#170822" stroke-width="1.15"/>
<circle cx="1042.9" cy="597.0" r="1.5" fill="#f3edf8" stroke="#170822" stroke-width="1.15"/>
<circle cx="1047.4" cy="591.2" r="1.5" fill="#f3edf8" stroke="#170822" stroke-width="1.15"/>
<circle cx="1051.3" cy="598.0" r="1.5" fill="#f3edf8" stroke="#170822" stroke-width="1.15"/>
<circle cx="1037.7" cy="604.2" r="1.5" fill="#f3edf8" stroke="#170822" stroke-width="1.15"/>
<circle cx="1034.5" cy="613.3" r="1.5" fill="#f3edf8" stroke="#170822" stroke-width="1.15"/>
<path d="M842.3,678.9 H846.5 V761.1 H928.2 V765.3" stroke="#141414" stroke-width="1.3" fill="none"/>
<path d="M842.3,678.9 H846.5" stroke="#141414" stroke-width="1.3"/>
<text x="840.1" y="681.6" font-size="7.8" font-weight="bold" font-style="normal" text-anchor="end" fill="#111" stroke="#111" stroke-width="0.17">160</text>
<path d="M842.3,699.5 H846.5" stroke="#141414" stroke-width="1.3"/>
<text x="840.1" y="702.2" font-size="7.8" font-weight="bold" font-style="normal" text-anchor="end" fill="#111" stroke="#111" stroke-width="0.17">140</text>
<path d="M842.3,720.0 H846.5" stroke="#141414" stroke-width="1.3"/>
<text x="840.1" y="722.7" font-size="7.8" font-weight="bold" font-style="normal" text-anchor="end" fill="#111" stroke="#111" stroke-width="0.17">120</text>
<path d="M842.3,740.5 H846.5" stroke="#141414" stroke-width="1.3"/>
<text x="840.1" y="743.2" font-size="7.8" font-weight="bold" font-style="normal" text-anchor="end" fill="#111" stroke="#111" stroke-width="0.17">100</text>
<path d="M842.3,761.1 H846.5" stroke="#141414" stroke-width="1.3"/>
<text x="840.1" y="763.8" font-size="7.8" font-weight="bold" font-style="normal" text-anchor="end" fill="#111" stroke="#111" stroke-width="0.17">80</text>
<path d="M846.5,761.1 V765.3" stroke="#141414" stroke-width="1.3"/>
<text x="846.5" y="775.3" font-size="7.8" font-weight="bold" font-style="normal" text-anchor="middle" fill="#111" stroke="#111" stroke-width="0.17">80</text>
<path d="M866.9,761.1 V765.3" stroke="#141414" stroke-width="1.3"/>
<text x="866.9" y="775.3" font-size="7.8" font-weight="bold" font-style="normal" text-anchor="middle" fill="#111" stroke="#111" stroke-width="0.17">100</text>
<path d="M887.4,761.1 V765.3" stroke="#141414" stroke-width="1.3"/>
<text x="887.4" y="775.3" font-size="7.8" font-weight="bold" font-style="normal" text-anchor="middle" fill="#111" stroke="#111" stroke-width="0.17">120</text>
<path d="M907.8,761.1 V765.3" stroke="#141414" stroke-width="1.3"/>
<text x="907.8" y="775.3" font-size="7.8" font-weight="bold" font-style="normal" text-anchor="middle" fill="#111" stroke="#111" stroke-width="0.17">140</text>
<path d="M928.2,761.1 V765.3" stroke="#141414" stroke-width="1.3"/>
<text x="928.2" y="775.3" font-size="7.8" font-weight="bold" font-style="normal" text-anchor="middle" fill="#111" stroke="#111" stroke-width="0.17">160</text>
<circle cx="859.6" cy="742.2" r="1.5" fill="#cdb3e0" stroke="#170822" stroke-width="1.15"/>
<circle cx="860.6" cy="747.5" r="1.5" fill="#cdb3e0" stroke="#170822" stroke-width="1.15"/>
<circle cx="864.9" cy="746.6" r="1.5" fill="#cdb3e0" stroke="#170822" stroke-width="1.15"/>
<circle cx="865.1" cy="735.5" r="1.5" fill="#cdb3e0" stroke="#170822" stroke-width="1.15"/>
<circle cx="863.7" cy="737.8" r="1.5" fill="#cdb3e0" stroke="#170822" stroke-width="1.15"/>
<circle cx="867.2" cy="736.9" r="1.5" fill="#cdb3e0" stroke="#170822" stroke-width="1.15"/>
<circle cx="867.5" cy="741.1" r="1.5" fill="#cdb3e0" stroke="#170822" stroke-width="1.15"/>
<circle cx="868.1" cy="739.0" r="1.5" fill="#cdb3e0" stroke="#170822" stroke-width="1.15"/>
<circle cx="869.8" cy="736.4" r="1.5" fill="#cdb3e0" stroke="#170822" stroke-width="1.15"/>
<circle cx="871.3" cy="743.4" r="1.5" fill="#cdb3e0" stroke="#170822" stroke-width="1.15"/>
<circle cx="869.0" cy="729.3" r="1.5" fill="#cdb3e0" stroke="#170822" stroke-width="1.15"/>
<circle cx="870.2" cy="731.9" r="1.5" fill="#cdb3e0" stroke="#170822" stroke-width="1.15"/>
<circle cx="871.6" cy="733.7" r="1.5" fill="#cdb3e0" stroke="#170822" stroke-width="1.15"/>
<circle cx="871.3" cy="719.6" r="1.5" fill="#cdb3e0" stroke="#170822" stroke-width="1.15"/>
<circle cx="872.5" cy="730.2" r="1.5" fill="#cdb3e0" stroke="#170822" stroke-width="1.15"/>
<circle cx="873.4" cy="726.6" r="1.5" fill="#cdb3e0" stroke="#170822" stroke-width="1.15"/>
<circle cx="874.3" cy="731.9" r="1.5" fill="#cdb3e0" stroke="#170822" stroke-width="1.15"/>
<circle cx="874.8" cy="739.0" r="1.5" fill="#cdb3e0" stroke="#170822" stroke-width="1.15"/>
<circle cx="875.1" cy="729.3" r="1.5" fill="#cdb3e0" stroke="#170822" stroke-width="1.15"/>
<circle cx="876.0" cy="724.9" r="1.5" fill="#cdb3e0" stroke="#170822" stroke-width="1.15"/>
<circle cx="876.6" cy="733.7" r="1.5" fill="#cdb3e0" stroke="#170822" stroke-width="1.15"/>
<circle cx="876.9" cy="722.2" r="1.5" fill="#cdb3e0" stroke="#170822" stroke-width="1.15"/>
<circle cx="877.8" cy="728.4" r="1.5" fill="#cdb3e0" stroke="#170822" stroke-width="1.15"/>
<circle cx="878.3" cy="736.4" r="1.5" fill="#cdb3e0" stroke="#170822" stroke-width="1.15"/>
<circle cx="878.7" cy="731.9" r="1.5" fill="#cdb3e0" stroke="#170822" stroke-width="1.15"/>
<circle cx="879.6" cy="723.1" r="1.5" fill="#cdb3e0" stroke="#170822" stroke-width="1.15"/>
<circle cx="880.5" cy="701.9" r="1.5" fill="#cdb3e0" stroke="#170822" stroke-width="1.15"/>
<circle cx="881.3" cy="705.4" r="1.5" fill="#cdb3e0" stroke="#170822" stroke-width="1.15"/>
<circle cx="876.6" cy="712.1" r="1.5" fill="#cdb3e0" stroke="#170822" stroke-width="1.15"/>
<circle cx="878.7" cy="714.3" r="1.5" fill="#cdb3e0" stroke="#170822" stroke-width="1.15"/>
<circle cx="881.9" cy="713.4" r="1.5" fill="#cdb3e0" stroke="#170822" stroke-width="1.15"/>
<circle cx="882.2" cy="720.4" r="1.5" fill="#cdb3e0" stroke="#170822" stroke-width="1.15"/>
<circle cx="883.1" cy="716.0" r="1.5" fill="#cdb3e0" stroke="#170822" stroke-width="1.15"/>
<circle cx="884.9" cy="720.4" r="1.5" fill="#cdb3e0" stroke="#170822" stroke-width="1.15"/>
<circle cx="881.9" cy="731.9" r="1.5" fill="#cdb3e0" stroke="#170822" stroke-width="1.15"/>
<circle cx="884.9" cy="729.8" r="1.5" fill="#cdb3e0" stroke="#170822" stroke-width="1.15"/>
<circle cx="886.6" cy="731.0" r="1.5" fill="#cdb3e0" stroke="#170822" stroke-width="1.15"/>
<circle cx="887.2" cy="733.7" r="1.5" fill="#cdb3e0" stroke="#170822" stroke-width="1.15"/>
<circle cx="887.5" cy="742.5" r="1.5" fill="#cdb3e0" stroke="#170822" stroke-width="1.15"/>
<circle cx="889.3" cy="728.4" r="1.5" fill="#cdb3e0" stroke="#170822" stroke-width="1.15"/>
<circle cx="892.3" cy="727.5" r="1.5" fill="#cdb3e0" stroke="#170822" stroke-width="1.15"/>
<circle cx="893.4" cy="727.0" r="1.5" fill="#cdb3e0" stroke="#170822" stroke-width="1.15"/>
<circle cx="887.2" cy="703.3" r="1.5" fill="#cdb3e0" stroke="#170822" stroke-width="1.15"/>
<circle cx="890.2" cy="713.4" r="1.5" fill="#cdb3e0" stroke="#170822" stroke-width="1.15"/>
<circle cx="891.4" cy="705.4" r="1.5" fill="#cdb3e0" stroke="#170822" stroke-width="1.15"/>
<circle cx="894.6" cy="707.2" r="1.5" fill="#cdb3e0" stroke="#170822" stroke-width="1.15"/>
<circle cx="895.5" cy="703.6" r="1.5" fill="#cdb3e0" stroke="#170822" stroke-width="1.15"/>
<circle cx="895.0" cy="698.3" r="1.5" fill="#cdb3e0" stroke="#170822" stroke-width="1.15"/>
<circle cx="895.1" cy="712.1" r="1.5" fill="#cdb3e0" stroke="#170822" stroke-width="1.15"/>
<circle cx="900.4" cy="716.4" r="1.5" fill="#cdb3e0" stroke="#170822" stroke-width="1.15"/>
<circle cx="901.7" cy="697.8" r="1.5" fill="#cdb3e0" stroke="#170822" stroke-width="1.15"/>
<circle cx="903.4" cy="712.1" r="1.5" fill="#cdb3e0" stroke="#170822" stroke-width="1.15"/>
<circle cx="905.2" cy="717.8" r="1.5" fill="#cdb3e0" stroke="#170822" stroke-width="1.15"/>
<circle cx="901.7" cy="725.7" r="1.5" fill="#cdb3e0" stroke="#170822" stroke-width="1.15"/>
<circle cx="904.0" cy="727.0" r="1.5" fill="#cdb3e0" stroke="#170822" stroke-width="1.15"/>
<circle cx="900.3" cy="739.0" r="1.5" fill="#cdb3e0" stroke="#170822" stroke-width="1.15"/>
<circle cx="903.4" cy="686.9" r="1.5" fill="#cdb3e0" stroke="#170822" stroke-width="1.15"/>
<circle cx="905.2" cy="690.7" r="1.5" fill="#cdb3e0" stroke="#170822" stroke-width="1.15"/>
<circle cx="908.2" cy="685.1" r="1.5" fill="#cdb3e0" stroke="#170822" stroke-width="1.15"/>
<circle cx="908.7" cy="694.8" r="1.5" fill="#cdb3e0" stroke="#170822" stroke-width="1.15"/>
<circle cx="909.3" cy="698.3" r="1.5" fill="#cdb3e0" stroke="#170822" stroke-width="1.15"/>
<circle cx="912.3" cy="701.9" r="1.5" fill="#cdb3e0" stroke="#170822" stroke-width="1.15"/>
<circle cx="916.2" cy="719.9" r="1.5" fill="#cdb3e0" stroke="#170822" stroke-width="1.15"/>
<circle cx="922.0" cy="720.4" r="1.5" fill="#cdb3e0" stroke="#170822" stroke-width="1.15"/>
<circle cx="920.6" cy="727.5" r="1.5" fill="#cdb3e0" stroke="#170822" stroke-width="1.15"/>
<circle cx="873.4" cy="735.5" r="1.5" fill="#cdb3e0" stroke="#170822" stroke-width="1.15"/>
<circle cx="875.5" cy="736.4" r="1.5" fill="#cdb3e0" stroke="#170822" stroke-width="1.15"/>
<circle cx="872.0" cy="738.1" r="1.5" fill="#cdb3e0" stroke="#170822" stroke-width="1.15"/>
<circle cx="869.0" cy="739.4" r="1.5" fill="#cdb3e0" stroke="#170822" stroke-width="1.15"/>
<circle cx="870.7" cy="734.6" r="1.5" fill="#cdb3e0" stroke="#170822" stroke-width="1.15"/>
<path d="M1015.0,678.9 H1019.2 V761.0 H1100.9 V765.2" stroke="#141414" stroke-width="1.3" fill="none"/>
<path d="M1015.0,678.9 H1019.2" stroke="#141414" stroke-width="1.3"/>
<text x="1012.8" y="681.6" font-size="7.8" font-weight="bold" font-style="normal" text-anchor="end" fill="#111" stroke="#111" stroke-width="0.17">160</text>
<path d="M1015.0,699.4 H1019.2" stroke="#141414" stroke-width="1.3"/>
<text x="1012.8" y="702.1" font-size="7.8" font-weight="bold" font-style="normal" text-anchor="end" fill="#111" stroke="#111" stroke-width="0.17">140</text>
<path d="M1015.0,720.0 H1019.2" stroke="#141414" stroke-width="1.3"/>
<text x="1012.8" y="722.7" font-size="7.8" font-weight="bold" font-style="normal" text-anchor="end" fill="#111" stroke="#111" stroke-width="0.17">120</text>
<path d="M1015.0,740.5 H1019.2" stroke="#141414" stroke-width="1.3"/>
<text x="1012.8" y="743.2" font-size="7.8" font-weight="bold" font-style="normal" text-anchor="end" fill="#111" stroke="#111" stroke-width="0.17">100</text>
<path d="M1015.0,761.0 H1019.2" stroke="#141414" stroke-width="1.3"/>
<text x="1012.8" y="763.7" font-size="7.8" font-weight="bold" font-style="normal" text-anchor="end" fill="#111" stroke="#111" stroke-width="0.17">80</text>
<path d="M1019.2,761.0 V765.2" stroke="#141414" stroke-width="1.3"/>
<text x="1019.2" y="775.2" font-size="7.8" font-weight="bold" font-style="normal" text-anchor="middle" fill="#111" stroke="#111" stroke-width="0.17">80</text>
<path d="M1039.6,761.0 V765.2" stroke="#141414" stroke-width="1.3"/>
<text x="1039.6" y="775.2" font-size="7.8" font-weight="bold" font-style="normal" text-anchor="middle" fill="#111" stroke="#111" stroke-width="0.17">100</text>
<path d="M1060.1,761.0 V765.2" stroke="#141414" stroke-width="1.3"/>
<text x="1060.1" y="775.2" font-size="7.8" font-weight="bold" font-style="normal" text-anchor="middle" fill="#111" stroke="#111" stroke-width="0.17">120</text>
<path d="M1080.5,761.0 V765.2" stroke="#141414" stroke-width="1.3"/>
<text x="1080.5" y="775.2" font-size="7.8" font-weight="bold" font-style="normal" text-anchor="middle" fill="#111" stroke="#111" stroke-width="0.17">140</text>
<path d="M1100.9,761.0 V765.2" stroke="#141414" stroke-width="1.3"/>
<text x="1100.9" y="775.2" font-size="7.8" font-weight="bold" font-style="normal" text-anchor="middle" fill="#111" stroke="#111" stroke-width="0.17">160</text>
<circle cx="1052.9" cy="719.7" r="1.5" fill="#f3edf8" stroke="#170822" stroke-width="1.15"/>
<circle cx="1048.3" cy="727.4" r="1.5" fill="#f3edf8" stroke="#170822" stroke-width="1.15"/>
<circle cx="1060.5" cy="727.8" r="1.5" fill="#f3edf8" stroke="#170822" stroke-width="1.15"/>
<circle cx="1052.3" cy="738.1" r="1.5" fill="#f3edf8" stroke="#170822" stroke-width="1.15"/>
<circle cx="1037.6" cy="731.9" r="1.5" fill="#f3edf8" stroke="#170822" stroke-width="1.15"/>
<circle cx="1036.3" cy="736.5" r="1.5" fill="#f3edf8" stroke="#170822" stroke-width="1.15"/>
<circle cx="1038.0" cy="738.5" r="1.5" fill="#f3edf8" stroke="#170822" stroke-width="1.15"/>
<circle cx="1041.6" cy="744.0" r="1.5" fill="#f3edf8" stroke="#170822" stroke-width="1.15"/>
<circle cx="1042.9" cy="745.5" r="1.5" fill="#f3edf8" stroke="#170822" stroke-width="1.15"/>
<circle cx="1044.2" cy="746.6" r="1.5" fill="#f3edf8" stroke="#170822" stroke-width="1.15"/>
<circle cx="1030.6" cy="742.1" r="1.5" fill="#f3edf8" stroke="#170822" stroke-width="1.15"/>
<circle cx="1033.2" cy="742.7" r="1.5" fill="#f3edf8" stroke="#170822" stroke-width="1.15"/>
<circle cx="1035.8" cy="743.1" r="1.5" fill="#f3edf8" stroke="#170822" stroke-width="1.15"/>
<circle cx="1028.9" cy="745.7" r="1.5" fill="#f3edf8" stroke="#170822" stroke-width="1.15"/>
<circle cx="1031.5" cy="745.3" r="1.5" fill="#f3edf8" stroke="#170822" stroke-width="1.15"/>
<circle cx="1034.1" cy="745.7" r="1.5" fill="#f3edf8" stroke="#170822" stroke-width="1.15"/>
<circle cx="1037.0" cy="745.7" r="1.5" fill="#f3edf8" stroke="#170822" stroke-width="1.15"/>
<circle cx="1027.3" cy="748.9" r="1.5" fill="#f3edf8" stroke="#170822" stroke-width="1.15"/>
<circle cx="1029.9" cy="748.9" r="1.5" fill="#f3edf8" stroke="#170822" stroke-width="1.15"/>
<circle cx="1032.5" cy="748.3" r="1.5" fill="#f3edf8" stroke="#170822" stroke-width="1.15"/>
<circle cx="1035.8" cy="748.9" r="1.5" fill="#f3edf8" stroke="#170822" stroke-width="1.15"/>
<circle cx="1025.4" cy="750.2" r="1.5" fill="#f3edf8" stroke="#170822" stroke-width="1.15"/>
<circle cx="1028.0" cy="751.5" r="1.5" fill="#f3edf8" stroke="#170822" stroke-width="1.15"/>
<circle cx="1030.6" cy="751.5" r="1.5" fill="#f3edf8" stroke="#170822" stroke-width="1.15"/>
<circle cx="1033.2" cy="751.5" r="1.5" fill="#f3edf8" stroke="#170822" stroke-width="1.15"/>
<circle cx="1035.4" cy="751.5" r="1.5" fill="#f3edf8" stroke="#170822" stroke-width="1.15"/>
<circle cx="1025.7" cy="753.1" r="1.5" fill="#f3edf8" stroke="#170822" stroke-width="1.15"/>
<circle cx="1028.3" cy="754.7" r="1.5" fill="#f3edf8" stroke="#170822" stroke-width="1.15"/>
<circle cx="1031.2" cy="754.1" r="1.5" fill="#f3edf8" stroke="#170822" stroke-width="1.15"/>
<circle cx="1034.5" cy="754.7" r="1.5" fill="#f3edf8" stroke="#170822" stroke-width="1.15"/>
<circle cx="1026.7" cy="752.2" r="1.5" fill="#f3edf8" stroke="#170822" stroke-width="1.15"/>
<circle cx="1031.9" cy="749.9" r="1.5" fill="#f3edf8" stroke="#170822" stroke-width="1.15"/>
</svg></body></html>
